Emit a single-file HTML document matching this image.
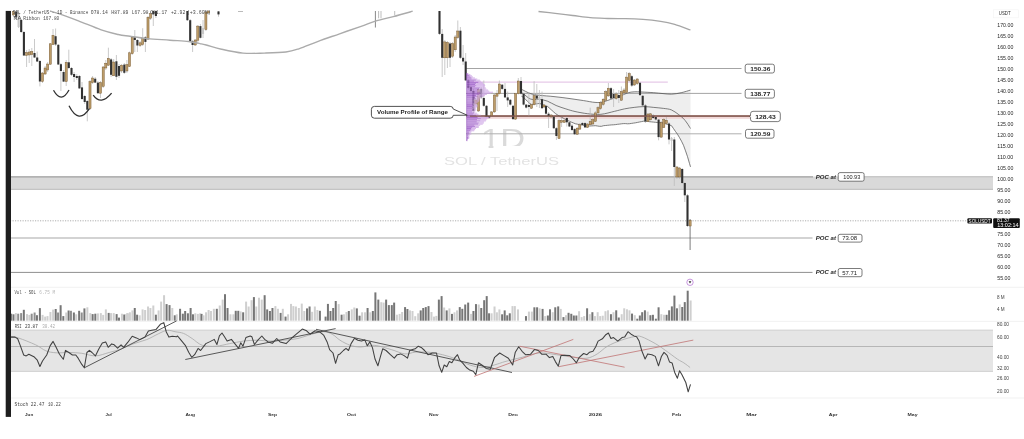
<!DOCTYPE html>
<html><head><meta charset="utf-8"><title>SOL / TetherUS</title>
<style>
html,body{margin:0;padding:0;background:#fff;width:1024px;height:439px;overflow:hidden;}
svg{display:block;font-family:"Liberation Sans", Arial, sans-serif;filter:blur(0.4px);}
</style></head><body>
<svg width="1024" height="439" viewBox="0 0 1024 439">
<rect x="0" y="0" width="1024" height="439" fill="#fff"/>

<clipPath id="c1"><path d="M470,120 H530 V145.9 H493.4 V150 H488.6 V145.9 H470 Z"/></clipPath>
<g clip-path="url(#c1)"><text x="481.0" y="147.9" font-size="27.4" fill="#dadada" font-weight="normal" font-style="normal" textLength="44.0" lengthAdjust="spacingAndGlyphs">1D</text></g>
<text x="444.0" y="165.0" font-size="11.4" fill="#e3e3e3" font-weight="normal" font-style="normal" textLength="115.0" lengthAdjust="spacingAndGlyphs">SOL / TetherUS</text>
<rect x="10" y="176.5" width="983" height="13.3" fill="#d9d9d9"/>
<line x1="10" y1="176.8" x2="813" y2="176.8" stroke="#a0a0a0" stroke-width="1.3"/>
<line x1="838" y1="176.8" x2="993" y2="176.8" stroke="#bdbdbd" stroke-width="1.1"/>
<line x1="10" y1="189.4" x2="993" y2="189.4" stroke="#c4c4c4" stroke-width="1.2"/>
<line x1="10" y1="220.8" x2="967" y2="220.8" stroke="#9a9a9a" stroke-width="0.8" stroke-dasharray="1.2,1.3"/>
<line x1="10" y1="238" x2="812.5" y2="238" stroke="#a8a8a8" stroke-width="1.05"/>
<line x1="10" y1="272.4" x2="812.5" y2="272.4" stroke="#8e8e8e" stroke-width="1"/>
<polygon points="521.5,89.3 523.5,90.3 525.5,91.2 527.5,92.2 529.5,93.1 531.5,93.8 533.5,94.2 535.5,94.6 537.5,94.9 539.5,95.3 541.5,95.5 543.5,95.7 545.5,95.8 547.5,96.0 549.5,96.2 551.5,96.4 553.5,96.6 555.5,96.8 557.5,97.0 559.5,97.3 561.5,97.5 563.5,97.8 565.5,98.0 567.5,98.3 569.5,98.5 571.5,98.8 573.5,99.1 575.5,99.4 577.5,99.7 579.5,100.0 581.5,100.3 583.5,100.6 585.5,100.9 587.5,101.2 589.5,101.5 591.5,101.8 593.5,102.2 595.5,102.4 597.5,102.3 599.5,102.2 601.5,102.1 603.5,101.8 605.5,101.1 607.5,100.4 609.5,99.7 611.5,99.0 613.5,98.3 615.5,97.6 617.5,96.9 619.5,96.1 621.5,95.4 623.5,94.7 625.5,93.8 627.5,93.0 629.5,92.5 631.5,92.2 633.5,91.9 635.5,91.8 637.5,91.9 639.5,91.9 641.5,92.0 643.5,92.1 645.5,92.2 647.5,92.3 649.5,92.4 651.5,92.6 653.5,92.7 655.5,92.9 657.5,93.1 659.5,93.3 661.5,93.5 663.5,93.6 665.5,93.8 667.5,93.9 669.5,94.1 671.5,94.2 673.5,93.9 675.5,93.6 677.5,93.3 679.5,93.0 681.5,92.6 683.5,92.1 685.5,91.5 687.5,90.9 689.5,90.4 690.5,90.1 690.5,166.9 689.5,163.5 687.5,156.6 685.5,150.8 683.5,145.3 681.5,141.2 679.5,137.6 677.5,134.3 675.5,131.5 673.5,128.6 671.5,125.7 669.5,125.0 667.5,124.4 665.5,123.8 663.5,123.1 661.5,122.9 659.5,122.7 657.5,122.5 655.5,122.3 653.5,122.1 651.5,121.9 649.5,121.7 647.5,121.4 645.5,121.2 643.5,121.2 641.5,121.6 639.5,122.0 637.5,122.4 635.5,122.8 633.5,123.1 631.5,123.4 629.5,123.7 627.5,123.8 625.5,123.6 623.5,123.6 621.5,123.8 619.5,124.1 617.5,124.3 615.5,124.6 613.5,124.8 611.5,124.9 609.5,125.1 607.5,125.3 605.5,125.5 603.5,125.7 601.5,126.3 599.5,126.3 597.5,126.0 595.5,125.7 593.5,125.8 591.5,125.9 589.5,126.0 587.5,126.2 585.5,125.8 583.5,125.4 581.5,125.0 579.5,124.6 577.5,124.2 575.5,123.8 573.5,123.0 571.5,122.2 569.5,121.3 567.5,120.4 565.5,119.5 563.5,118.3 561.5,117.2 559.5,116.1 557.5,114.9 555.5,113.6 553.5,111.8 551.5,110.0 549.5,108.2 547.5,106.4 545.5,105.6 543.5,104.9 541.5,104.2 539.5,103.5 537.5,103.7 535.5,104.0 533.5,104.2 531.5,104.4 529.5,103.3 527.5,101.4 525.5,99.4 523.5,97.4 521.5,96.3" fill="#eeeeee"/>
<line x1="466" y1="68.5" x2="741.5" y2="68.5" stroke="#9a9a9a" stroke-width="0.9"/>
<line x1="467" y1="82.1" x2="667.8" y2="82.1" stroke="#e0bce2" stroke-width="1"/>
<line x1="466" y1="93.4" x2="741.5" y2="93.4" stroke="#9a9a9a" stroke-width="0.9"/>
<line x1="466" y1="133.8" x2="741.5" y2="133.8" stroke="#b0b0b0" stroke-width="1"/>
<rect x="466" y="116.6" width="285" height="2.2" fill="#f0d4d4" opacity="0.9"/>
<line x1="466" y1="116.1" x2="751" y2="116.1" stroke="#8e6a60" stroke-width="1.5"/>
<path d="M521.5,89.3 C523.0,90.0 527.7,92.7 530.7,93.7 C533.7,94.7 535.6,94.8 539.5,95.3 C543.4,95.8 548.9,96.0 554.0,96.6 C559.1,97.1 565.1,97.9 570.0,98.6 C574.9,99.3 579.4,100.0 583.6,100.6 C587.8,101.2 591.8,102.2 595.0,102.4 C598.2,102.6 599.8,102.7 602.8,102.0 C605.8,101.3 609.6,99.7 613.0,98.5 C616.4,97.3 620.9,95.7 623.4,94.7 C625.9,93.7 626.5,93.2 628.3,92.7 C630.1,92.2 631.9,91.9 634.2,91.8 C636.5,91.7 638.7,91.8 642.0,92.0 C645.3,92.2 650.3,92.4 653.8,92.7 C657.3,93.0 660.1,93.3 663.0,93.6 C665.9,93.8 668.4,94.3 671.4,94.2 C674.4,94.1 678.0,93.4 681.2,92.7 C684.4,92.0 689.0,90.5 690.5,90.1" fill="none" stroke="#4a4a4a" stroke-width="0.7"/><path d="M521.5,92.8 C521.8,93.0 521.8,92.7 523.3,93.7 C524.8,94.8 528.0,98.1 530.7,99.1 C533.4,100.0 536.7,99.1 539.5,99.4 C542.3,99.7 544.5,100.1 547.3,101.1 C550.1,102.1 553.0,104.2 556.1,105.5 C559.2,106.8 562.8,107.9 565.9,108.9 C569.0,109.9 571.4,110.7 575.0,111.5 C578.6,112.3 583.2,113.2 587.5,113.7 C591.8,114.2 596.4,114.7 600.9,114.3 C605.4,113.9 610.7,112.2 614.6,111.3 C618.5,110.4 621.1,109.6 624.4,108.9 C627.7,108.2 630.9,107.8 634.2,107.4 C637.5,107.0 640.7,106.6 644.0,106.6 C647.3,106.6 650.5,107.1 653.8,107.4 C657.1,107.7 660.7,108.0 663.6,108.4 C666.5,108.8 669.0,108.9 671.4,109.9 C673.8,110.9 676.3,112.9 678.3,114.3 C680.2,115.7 681.6,116.8 683.1,118.2 C684.6,119.7 685.8,121.3 687.0,123.0 C688.2,124.7 689.9,127.6 690.5,128.5" fill="none" stroke="#4a4a4a" stroke-width="0.7"/><polyline points="521.5,96.3 523.5,97.4 525.5,99.4 527.5,101.4 529.5,103.3 531.5,104.4 533.5,104.2 535.5,104.0 537.5,103.7 539.5,103.5 541.5,104.2 543.5,104.9 545.5,105.6 547.5,106.4 549.5,108.2 551.5,110.0 553.5,111.8 555.5,113.6 557.5,114.9 559.5,116.1 561.5,117.2 563.5,118.3 565.5,119.5 567.5,120.4 569.5,121.3 571.5,122.2 573.5,123.0 575.5,123.8 577.5,124.2 579.5,124.6 581.5,125.0 583.5,125.4 585.5,125.8 587.5,126.2 589.5,126.0 591.5,125.9 593.5,125.8 595.5,125.7 597.5,126.0 599.5,126.3 601.5,126.3 603.5,125.7 605.5,125.5 607.5,125.3 609.5,125.1 611.5,124.9 613.5,124.8 615.5,124.6 617.5,124.3 619.5,124.1 621.5,123.8 623.5,123.6 625.5,123.6 627.5,123.8 629.5,123.7 631.5,123.4 633.5,123.1 635.5,122.8 637.5,122.4 639.5,122.0 641.5,121.6 643.5,121.2 645.5,121.2 647.5,121.4 649.5,121.7 651.5,121.9 653.5,122.1 655.5,122.3 657.5,122.5 659.5,122.7 661.5,122.9 663.5,123.1 665.5,123.8 667.5,124.4 669.5,125.0 671.5,125.7 673.5,128.6 675.5,131.5 677.5,134.3 679.5,137.6 681.5,141.2 683.5,145.3 685.5,150.8 687.5,156.6 689.5,163.5 690.5,166.9" fill="none" stroke="#4a4a4a" stroke-width="0.7" stroke-linejoin="round"/>
<g><line x1="13.5" y1="11.0" x2="13.5" y2="17.0" stroke="#bdbdbd" stroke-width="0.8"/><line x1="16.2" y1="11.0" x2="16.2" y2="20.0" stroke="#bdbdbd" stroke-width="0.8"/><line x1="18.6" y1="12.0" x2="18.6" y2="28.0" stroke="#bdbdbd" stroke-width="0.8"/><line x1="21.2" y1="19.0" x2="21.2" y2="33.0" stroke="#bdbdbd" stroke-width="0.8"/><line x1="23.9" y1="31.0" x2="23.9" y2="56.0" stroke="#bdbdbd" stroke-width="0.8"/><line x1="26.6" y1="50.0" x2="26.6" y2="67.0" stroke="#bdbdbd" stroke-width="0.8"/><line x1="29.2" y1="49.0" x2="29.2" y2="63.0" stroke="#bdbdbd" stroke-width="0.8"/><line x1="31.8" y1="48.0" x2="31.8" y2="66.0" stroke="#bdbdbd" stroke-width="0.8"/><line x1="34.5" y1="39.0" x2="34.5" y2="58.0" stroke="#bdbdbd" stroke-width="0.8"/><line x1="37.2" y1="51.5" x2="37.2" y2="62.0" stroke="#bdbdbd" stroke-width="0.8"/><line x1="39.9" y1="60.0" x2="39.9" y2="86.4" stroke="#bdbdbd" stroke-width="0.8"/><line x1="42.5" y1="72.0" x2="42.5" y2="83.0" stroke="#bdbdbd" stroke-width="0.8"/><line x1="45.1" y1="66.0" x2="45.1" y2="75.0" stroke="#bdbdbd" stroke-width="0.8"/><line x1="47.7" y1="62.0" x2="47.7" y2="72.0" stroke="#bdbdbd" stroke-width="0.8"/><line x1="50.3" y1="43.0" x2="50.3" y2="65.0" stroke="#bdbdbd" stroke-width="0.8"/><line x1="53.0" y1="29.0" x2="53.0" y2="45.0" stroke="#bdbdbd" stroke-width="0.8"/><line x1="55.6" y1="28.5" x2="55.6" y2="46.0" stroke="#bdbdbd" stroke-width="0.8"/><line x1="58.3" y1="44.0" x2="58.3" y2="65.0" stroke="#bdbdbd" stroke-width="0.8"/><line x1="60.9" y1="63.0" x2="60.9" y2="91.0" stroke="#bdbdbd" stroke-width="0.8"/><line x1="63.6" y1="70.0" x2="63.6" y2="82.0" stroke="#bdbdbd" stroke-width="0.8"/><line x1="66.2" y1="60.0" x2="66.2" y2="86.0" stroke="#bdbdbd" stroke-width="0.8"/><line x1="68.8" y1="49.7" x2="68.8" y2="69.0" stroke="#bdbdbd" stroke-width="0.8"/><line x1="71.5" y1="67.0" x2="71.5" y2="76.0" stroke="#bdbdbd" stroke-width="0.8"/><line x1="74.1" y1="72.0" x2="74.1" y2="82.0" stroke="#bdbdbd" stroke-width="0.8"/><line x1="76.8" y1="74.0" x2="76.8" y2="80.0" stroke="#bdbdbd" stroke-width="0.8"/><line x1="79.4" y1="75.0" x2="79.4" y2="89.0" stroke="#bdbdbd" stroke-width="0.8"/><line x1="82.0" y1="82.0" x2="82.0" y2="100.0" stroke="#bdbdbd" stroke-width="0.8"/><line x1="84.7" y1="95.0" x2="84.7" y2="104.0" stroke="#bdbdbd" stroke-width="0.8"/><line x1="87.3" y1="100.0" x2="87.3" y2="121.3" stroke="#bdbdbd" stroke-width="0.8"/><line x1="90.0" y1="80.0" x2="90.0" y2="110.0" stroke="#bdbdbd" stroke-width="0.8"/><line x1="92.6" y1="76.0" x2="92.6" y2="84.0" stroke="#bdbdbd" stroke-width="0.8"/><line x1="95.2" y1="77.0" x2="95.2" y2="83.0" stroke="#bdbdbd" stroke-width="0.8"/><line x1="97.9" y1="81.0" x2="97.9" y2="94.0" stroke="#bdbdbd" stroke-width="0.8"/><line x1="100.5" y1="81.0" x2="100.5" y2="98.0" stroke="#bdbdbd" stroke-width="0.8"/><line x1="103.2" y1="66.0" x2="103.2" y2="88.0" stroke="#bdbdbd" stroke-width="0.8"/><line x1="105.8" y1="60.0" x2="105.8" y2="70.0" stroke="#bdbdbd" stroke-width="0.8"/><line x1="108.4" y1="47.7" x2="108.4" y2="66.0" stroke="#bdbdbd" stroke-width="0.8"/><line x1="111.1" y1="58.0" x2="111.1" y2="77.0" stroke="#bdbdbd" stroke-width="0.8"/><line x1="113.7" y1="59.0" x2="113.7" y2="76.0" stroke="#bdbdbd" stroke-width="0.8"/><line x1="116.4" y1="55.0" x2="116.4" y2="80.0" stroke="#bdbdbd" stroke-width="0.8"/><line x1="119.0" y1="64.0" x2="119.0" y2="78.0" stroke="#bdbdbd" stroke-width="0.8"/><line x1="121.6" y1="64.0" x2="121.6" y2="73.0" stroke="#bdbdbd" stroke-width="0.8"/><line x1="124.3" y1="63.0" x2="124.3" y2="74.0" stroke="#bdbdbd" stroke-width="0.8"/><line x1="126.9" y1="60.0" x2="126.9" y2="73.0" stroke="#bdbdbd" stroke-width="0.8"/><line x1="129.5" y1="51.6" x2="129.5" y2="67.0" stroke="#bdbdbd" stroke-width="0.8"/><line x1="132.2" y1="36.0" x2="132.2" y2="55.0" stroke="#bdbdbd" stroke-width="0.8"/><line x1="134.8" y1="30.0" x2="134.8" y2="52.0" stroke="#bdbdbd" stroke-width="0.8"/><line x1="137.4" y1="39.0" x2="137.4" y2="52.0" stroke="#bdbdbd" stroke-width="0.8"/><line x1="140.1" y1="41.0" x2="140.1" y2="47.0" stroke="#bdbdbd" stroke-width="0.8"/><line x1="142.7" y1="28.2" x2="142.7" y2="46.0" stroke="#bdbdbd" stroke-width="0.8"/><line x1="145.4" y1="36.0" x2="145.4" y2="52.0" stroke="#bdbdbd" stroke-width="0.8"/><line x1="148.0" y1="16.0" x2="148.0" y2="40.0" stroke="#bdbdbd" stroke-width="0.8"/><line x1="150.6" y1="11.0" x2="150.6" y2="20.0" stroke="#bdbdbd" stroke-width="0.8"/><line x1="153.3" y1="11.0" x2="153.3" y2="26.0" stroke="#bdbdbd" stroke-width="0.8"/><line x1="155.9" y1="11.0" x2="155.9" y2="18.0" stroke="#bdbdbd" stroke-width="0.8"/><line x1="187.4" y1="11.0" x2="187.4" y2="21.0" stroke="#bdbdbd" stroke-width="0.8"/><line x1="190.2" y1="19.0" x2="190.2" y2="42.0" stroke="#bdbdbd" stroke-width="0.8"/><line x1="192.6" y1="40.0" x2="192.6" y2="52.0" stroke="#bdbdbd" stroke-width="0.8"/><line x1="195.2" y1="39.0" x2="195.2" y2="46.0" stroke="#bdbdbd" stroke-width="0.8"/><line x1="197.8" y1="25.0" x2="197.8" y2="44.0" stroke="#bdbdbd" stroke-width="0.8"/><line x1="200.4" y1="24.0" x2="200.4" y2="38.5" stroke="#bdbdbd" stroke-width="0.8"/><line x1="203.0" y1="20.0" x2="203.0" y2="38.0" stroke="#bdbdbd" stroke-width="0.8"/><line x1="205.9" y1="11.0" x2="205.9" y2="31.0" stroke="#bdbdbd" stroke-width="0.8"/><line x1="208.4" y1="11.0" x2="208.4" y2="14.0" stroke="#bdbdbd" stroke-width="0.8"/><line x1="218.5" y1="11.0" x2="218.5" y2="16.7" stroke="#bdbdbd" stroke-width="0.8"/><line x1="439.5" y1="11.0" x2="439.5" y2="35.0" stroke="#bdbdbd" stroke-width="0.8"/><line x1="442.2" y1="29.0" x2="442.2" y2="77.0" stroke="#bdbdbd" stroke-width="0.8"/><line x1="444.8" y1="40.0" x2="444.8" y2="75.0" stroke="#bdbdbd" stroke-width="0.8"/><line x1="447.4" y1="41.0" x2="447.4" y2="68.0" stroke="#bdbdbd" stroke-width="0.8"/><line x1="450.0" y1="42.0" x2="450.0" y2="67.0" stroke="#bdbdbd" stroke-width="0.8"/><line x1="452.6" y1="42.0" x2="452.6" y2="58.0" stroke="#bdbdbd" stroke-width="0.8"/><line x1="455.2" y1="35.0" x2="455.2" y2="52.0" stroke="#bdbdbd" stroke-width="0.8"/><line x1="457.8" y1="20.5" x2="457.8" y2="39.0" stroke="#bdbdbd" stroke-width="0.8"/><line x1="460.4" y1="27.0" x2="460.4" y2="59.0" stroke="#bdbdbd" stroke-width="0.8"/><line x1="463.1" y1="45.0" x2="463.1" y2="65.0" stroke="#bdbdbd" stroke-width="0.8"/><line x1="465.7" y1="53.0" x2="465.7" y2="81.0" stroke="#bdbdbd" stroke-width="0.8"/><line x1="468.3" y1="79.0" x2="468.3" y2="90.0" stroke="#bdbdbd" stroke-width="0.8"/><line x1="470.9" y1="85.0" x2="470.9" y2="93.0" stroke="#bdbdbd" stroke-width="0.8"/><line x1="473.4" y1="89.0" x2="473.4" y2="113.0" stroke="#bdbdbd" stroke-width="0.8"/><line x1="475.9" y1="98.0" x2="475.9" y2="106.0" stroke="#bdbdbd" stroke-width="0.8"/><line x1="478.6" y1="88.0" x2="478.6" y2="112.0" stroke="#bdbdbd" stroke-width="0.8"/><line x1="481.2" y1="87.0" x2="481.2" y2="99.0" stroke="#bdbdbd" stroke-width="0.8"/><line x1="483.8" y1="80.5" x2="483.8" y2="107.0" stroke="#bdbdbd" stroke-width="0.8"/><line x1="486.5" y1="105.0" x2="486.5" y2="117.5" stroke="#bdbdbd" stroke-width="0.8"/><line x1="489.1" y1="115.0" x2="489.1" y2="119.0" stroke="#bdbdbd" stroke-width="0.8"/><line x1="491.7" y1="111.0" x2="491.7" y2="117.0" stroke="#bdbdbd" stroke-width="0.8"/><line x1="494.4" y1="94.0" x2="494.4" y2="113.0" stroke="#bdbdbd" stroke-width="0.8"/><line x1="497.0" y1="90.0" x2="497.0" y2="111.0" stroke="#bdbdbd" stroke-width="0.8"/><line x1="499.4" y1="80.5" x2="499.4" y2="94.5" stroke="#bdbdbd" stroke-width="0.8"/><line x1="502.2" y1="84.0" x2="502.2" y2="90.0" stroke="#bdbdbd" stroke-width="0.8"/><line x1="505.0" y1="83.0" x2="505.0" y2="98.0" stroke="#bdbdbd" stroke-width="0.8"/><line x1="507.7" y1="91.5" x2="507.7" y2="107.0" stroke="#bdbdbd" stroke-width="0.8"/><line x1="510.3" y1="99.0" x2="510.3" y2="105.5" stroke="#bdbdbd" stroke-width="0.8"/><line x1="513.0" y1="105.0" x2="513.0" y2="120.0" stroke="#bdbdbd" stroke-width="0.8"/><line x1="515.6" y1="93.0" x2="515.6" y2="120.0" stroke="#bdbdbd" stroke-width="0.8"/><line x1="518.3" y1="78.0" x2="518.3" y2="94.5" stroke="#bdbdbd" stroke-width="0.8"/><line x1="521.0" y1="77.0" x2="521.0" y2="94.5" stroke="#bdbdbd" stroke-width="0.8"/><line x1="523.6" y1="93.0" x2="523.6" y2="105.5" stroke="#bdbdbd" stroke-width="0.8"/><line x1="526.2" y1="104.0" x2="526.2" y2="108.5" stroke="#bdbdbd" stroke-width="0.8"/><line x1="528.9" y1="92.5" x2="528.9" y2="116.7" stroke="#bdbdbd" stroke-width="0.8"/><line x1="531.5" y1="104.0" x2="531.5" y2="109.0" stroke="#bdbdbd" stroke-width="0.8"/><line x1="534.1" y1="81.2" x2="534.1" y2="105.5" stroke="#bdbdbd" stroke-width="0.8"/><line x1="536.8" y1="84.0" x2="536.8" y2="107.0" stroke="#bdbdbd" stroke-width="0.8"/><line x1="539.4" y1="90.0" x2="539.4" y2="108.0" stroke="#bdbdbd" stroke-width="0.8"/><line x1="542.0" y1="91.5" x2="542.0" y2="109.0" stroke="#bdbdbd" stroke-width="0.8"/><line x1="544.0" y1="104.0" x2="544.0" y2="108.0" stroke="#bdbdbd" stroke-width="0.8"/><line x1="546.0" y1="105.0" x2="546.0" y2="115.0" stroke="#bdbdbd" stroke-width="0.8"/><line x1="548.6" y1="112.0" x2="548.6" y2="128.0" stroke="#bdbdbd" stroke-width="0.8"/><line x1="551.2" y1="114.0" x2="551.2" y2="118.0" stroke="#bdbdbd" stroke-width="0.8"/><line x1="553.8" y1="115.0" x2="553.8" y2="129.0" stroke="#bdbdbd" stroke-width="0.8"/><line x1="556.4" y1="127.0" x2="556.4" y2="140.0" stroke="#bdbdbd" stroke-width="0.8"/><line x1="559.0" y1="119.0" x2="559.0" y2="139.0" stroke="#bdbdbd" stroke-width="0.8"/><line x1="561.6" y1="118.0" x2="561.6" y2="127.0" stroke="#bdbdbd" stroke-width="0.8"/><line x1="564.2" y1="119.0" x2="564.2" y2="123.0" stroke="#bdbdbd" stroke-width="0.8"/><line x1="566.8" y1="116.0" x2="566.8" y2="126.5" stroke="#bdbdbd" stroke-width="0.8"/><line x1="569.4" y1="121.0" x2="569.4" y2="127.0" stroke="#bdbdbd" stroke-width="0.8"/><line x1="572.0" y1="124.0" x2="572.0" y2="131.0" stroke="#bdbdbd" stroke-width="0.8"/><line x1="574.6" y1="128.0" x2="574.6" y2="135.0" stroke="#bdbdbd" stroke-width="0.8"/><line x1="577.2" y1="127.0" x2="577.2" y2="135.0" stroke="#bdbdbd" stroke-width="0.8"/><line x1="579.8" y1="123.0" x2="579.8" y2="130.0" stroke="#bdbdbd" stroke-width="0.8"/><line x1="582.4" y1="122.0" x2="582.4" y2="126.0" stroke="#bdbdbd" stroke-width="0.8"/><line x1="585.0" y1="122.0" x2="585.0" y2="128.0" stroke="#bdbdbd" stroke-width="0.8"/><line x1="587.6" y1="123.0" x2="587.6" y2="128.0" stroke="#bdbdbd" stroke-width="0.8"/><line x1="590.2" y1="107.7" x2="590.2" y2="125.5" stroke="#bdbdbd" stroke-width="0.8"/><line x1="592.8" y1="118.0" x2="592.8" y2="125.0" stroke="#bdbdbd" stroke-width="0.8"/><line x1="595.4" y1="111.0" x2="595.4" y2="122.0" stroke="#bdbdbd" stroke-width="0.8"/><line x1="598.0" y1="106.0" x2="598.0" y2="114.0" stroke="#bdbdbd" stroke-width="0.8"/><line x1="600.6" y1="101.0" x2="600.6" y2="110.0" stroke="#bdbdbd" stroke-width="0.8"/><line x1="603.2" y1="98.0" x2="603.2" y2="106.0" stroke="#bdbdbd" stroke-width="0.8"/><line x1="605.8" y1="90.0" x2="605.8" y2="101.0" stroke="#bdbdbd" stroke-width="0.8"/><line x1="608.4" y1="83.0" x2="608.4" y2="97.0" stroke="#bdbdbd" stroke-width="0.8"/><line x1="611.0" y1="87.0" x2="611.0" y2="100.0" stroke="#bdbdbd" stroke-width="0.8"/><line x1="613.6" y1="89.0" x2="613.6" y2="107.0" stroke="#bdbdbd" stroke-width="0.8"/><line x1="616.2" y1="92.0" x2="616.2" y2="100.0" stroke="#bdbdbd" stroke-width="0.8"/><line x1="618.8" y1="90.0" x2="618.8" y2="103.0" stroke="#bdbdbd" stroke-width="0.8"/><line x1="621.4" y1="86.5" x2="621.4" y2="101.0" stroke="#bdbdbd" stroke-width="0.8"/><line x1="624.0" y1="88.0" x2="624.0" y2="94.0" stroke="#bdbdbd" stroke-width="0.8"/><line x1="626.6" y1="72.0" x2="626.6" y2="93.0" stroke="#bdbdbd" stroke-width="0.8"/><line x1="629.2" y1="72.0" x2="629.2" y2="82.0" stroke="#bdbdbd" stroke-width="0.8"/><line x1="631.8" y1="75.0" x2="631.8" y2="87.0" stroke="#bdbdbd" stroke-width="0.8"/><line x1="634.4" y1="79.0" x2="634.4" y2="86.0" stroke="#bdbdbd" stroke-width="0.8"/><line x1="637.2" y1="78.0" x2="637.2" y2="85.0" stroke="#bdbdbd" stroke-width="0.8"/><line x1="640.0" y1="82.0" x2="640.0" y2="96.0" stroke="#bdbdbd" stroke-width="0.8"/><line x1="642.7" y1="95.0" x2="642.7" y2="106.0" stroke="#bdbdbd" stroke-width="0.8"/><line x1="645.4" y1="104.0" x2="645.4" y2="123.0" stroke="#bdbdbd" stroke-width="0.8"/><line x1="648.0" y1="113.0" x2="648.0" y2="122.0" stroke="#bdbdbd" stroke-width="0.8"/><line x1="650.6" y1="113.0" x2="650.6" y2="120.5" stroke="#bdbdbd" stroke-width="0.8"/><line x1="653.2" y1="114.0" x2="653.2" y2="119.0" stroke="#bdbdbd" stroke-width="0.8"/><line x1="655.8" y1="116.0" x2="655.8" y2="120.5" stroke="#bdbdbd" stroke-width="0.8"/><line x1="658.6" y1="119.0" x2="658.6" y2="140.3" stroke="#bdbdbd" stroke-width="0.8"/><line x1="661.2" y1="121.0" x2="661.2" y2="138.0" stroke="#bdbdbd" stroke-width="0.8"/><line x1="663.8" y1="118.0" x2="663.8" y2="128.0" stroke="#bdbdbd" stroke-width="0.8"/><line x1="666.4" y1="117.0" x2="666.4" y2="124.0" stroke="#bdbdbd" stroke-width="0.8"/><line x1="669.0" y1="122.0" x2="669.0" y2="144.3" stroke="#bdbdbd" stroke-width="0.8"/><line x1="671.6" y1="137.0" x2="671.6" y2="151.0" stroke="#bdbdbd" stroke-width="0.8"/><line x1="674.3" y1="137.0" x2="674.3" y2="186.0" stroke="#bdbdbd" stroke-width="0.8"/><line x1="676.9" y1="166.0" x2="676.9" y2="179.0" stroke="#bdbdbd" stroke-width="0.8"/><line x1="679.6" y1="167.0" x2="679.6" y2="179.0" stroke="#bdbdbd" stroke-width="0.8"/><line x1="682.2" y1="168.0" x2="682.2" y2="184.0" stroke="#bdbdbd" stroke-width="0.8"/><line x1="684.8" y1="182.0" x2="684.8" y2="202.0" stroke="#bdbdbd" stroke-width="0.8"/><line x1="687.5" y1="194.0" x2="687.5" y2="227.0" stroke="#bdbdbd" stroke-width="0.8"/><line x1="690.1" y1="219.0" x2="690.1" y2="250.0" stroke="#5a5a5a" stroke-width="0.8"/></g>
<g><rect x="12.45" y="11.5" width="2.1" height="3.5" fill="#bc9c69" stroke="#76582f" stroke-width="0.45"/><rect x="15.15" y="11.5" width="2.1" height="5.5" fill="#313131"/><rect x="17.55" y="13.0" width="2.1" height="14.0" fill="#c8c8c8"/><rect x="20.15" y="20.0" width="2.1" height="12.0" fill="#313131"/><rect x="22.85" y="32.0" width="2.1" height="23.5" fill="#313131"/><rect x="25.55" y="52.5" width="2.1" height="3.0" fill="#bc9c69" stroke="#76582f" stroke-width="0.45"/><rect x="28.15" y="52.0" width="2.1" height="3.0" fill="#bc9c69" stroke="#76582f" stroke-width="0.45"/><rect x="30.75" y="51.5" width="2.1" height="3.0" fill="#bc9c69" stroke="#76582f" stroke-width="0.45"/><rect x="33.45" y="53.0" width="2.1" height="4.5" fill="#313131"/><rect x="36.15" y="57.5" width="2.1" height="4.0" fill="#313131"/><rect x="38.85" y="61.0" width="2.1" height="20.5" fill="#313131"/><rect x="41.45" y="73.0" width="2.1" height="8.5" fill="#bc9c69" stroke="#76582f" stroke-width="0.45"/><rect x="44.05" y="68.0" width="2.1" height="6.0" fill="#bc9c69" stroke="#76582f" stroke-width="0.45"/><rect x="46.65" y="64.0" width="2.1" height="6.0" fill="#bc9c69" stroke="#76582f" stroke-width="0.45"/><rect x="49.25" y="43.8" width="2.1" height="20.4" fill="#bc9c69" stroke="#76582f" stroke-width="0.45"/><rect x="51.95" y="35.3" width="2.1" height="9.2" fill="#bc9c69" stroke="#76582f" stroke-width="0.45"/><rect x="54.55" y="36.2" width="2.1" height="8.3" fill="#313131"/><rect x="57.25" y="44.8" width="2.1" height="19.7" fill="#313131"/><rect x="59.85" y="64.2" width="2.1" height="6.8" fill="#313131"/><rect x="62.55" y="72.0" width="2.1" height="9.6" fill="#313131"/><rect x="65.15" y="62.3" width="2.1" height="19.3" fill="#bc9c69" stroke="#76582f" stroke-width="0.45"/><rect x="67.75" y="62.3" width="2.1" height="5.7" fill="#313131"/><rect x="70.45" y="68.0" width="2.1" height="6.8" fill="#313131"/><rect x="73.05" y="74.0" width="2.1" height="3.0" fill="#313131"/><rect x="75.75" y="76.0" width="2.1" height="2.0" fill="#313131"/><rect x="78.35" y="76.0" width="2.1" height="12.4" fill="#313131"/><rect x="80.95" y="87.4" width="2.1" height="11.6" fill="#313131"/><rect x="83.65" y="96.0" width="2.1" height="6.0" fill="#313131"/><rect x="86.25" y="101.0" width="2.1" height="8.7" fill="#313131"/><rect x="88.95" y="81.6" width="2.1" height="27.1" fill="#bc9c69" stroke="#76582f" stroke-width="0.45"/><rect x="91.55" y="78.0" width="2.1" height="4.6" fill="#bc9c69" stroke="#76582f" stroke-width="0.45"/><rect x="94.15" y="78.7" width="2.1" height="3.9" fill="#313131"/><rect x="96.85" y="82.6" width="2.1" height="10.6" fill="#313131"/><rect x="99.45" y="82.6" width="2.1" height="10.6" fill="#bc9c69" stroke="#76582f" stroke-width="0.45"/><rect x="102.15" y="67.0" width="2.1" height="19.4" fill="#bc9c69" stroke="#76582f" stroke-width="0.45"/><rect x="104.75" y="63.2" width="2.1" height="4.8" fill="#bc9c69" stroke="#76582f" stroke-width="0.45"/><rect x="107.35" y="58.4" width="2.1" height="6.8" fill="#bc9c69" stroke="#76582f" stroke-width="0.45"/><rect x="110.05" y="59.4" width="2.1" height="15.4" fill="#313131"/><rect x="112.65" y="62.0" width="2.1" height="13.8" fill="#bc9c69" stroke="#76582f" stroke-width="0.45"/><rect x="115.35" y="61.3" width="2.1" height="15.5" fill="#313131"/><rect x="117.95" y="66.0" width="2.1" height="9.8" fill="#313131"/><rect x="120.55" y="65.2" width="2.1" height="5.8" fill="#bc9c69" stroke="#76582f" stroke-width="0.45"/><rect x="123.25" y="64.6" width="2.1" height="8.2" fill="#313131"/><rect x="125.85" y="64.6" width="2.1" height="6.4" fill="#bc9c69" stroke="#76582f" stroke-width="0.45"/><rect x="128.45" y="52.8" width="2.1" height="13.7" fill="#bc9c69" stroke="#76582f" stroke-width="0.45"/><rect x="131.15" y="37.3" width="2.1" height="16.4" fill="#bc9c69" stroke="#76582f" stroke-width="0.45"/><rect x="133.75" y="37.3" width="2.1" height="2.7" fill="#313131"/><rect x="136.35" y="40.0" width="2.1" height="5.5" fill="#313131"/><rect x="139.05" y="42.8" width="2.1" height="2.7" fill="#bc9c69" stroke="#76582f" stroke-width="0.45"/><rect x="141.65" y="38.2" width="2.1" height="6.4" fill="#bc9c69" stroke="#76582f" stroke-width="0.45"/><rect x="144.35" y="37.3" width="2.1" height="4.6" fill="#313131"/><rect x="146.95" y="17.3" width="2.1" height="21.8" fill="#bc9c69" stroke="#76582f" stroke-width="0.45"/><rect x="149.55" y="13.6" width="2.1" height="4.6" fill="#bc9c69" stroke="#76582f" stroke-width="0.45"/><rect x="152.25" y="11.0" width="2.1" height="3.4" fill="#313131"/><rect x="154.85" y="11.0" width="2.1" height="5.0" fill="#313131"/><rect x="186.35" y="11.0" width="2.1" height="9.2" fill="#313131"/><rect x="189.15" y="20.2" width="2.1" height="21.1" fill="#313131"/><rect x="191.55" y="41.3" width="2.1" height="3.7" fill="#313131"/><rect x="194.15" y="40.0" width="2.1" height="5.0" fill="#bc9c69" stroke="#76582f" stroke-width="0.45"/><rect x="196.75" y="26.1" width="2.1" height="14.1" fill="#bc9c69" stroke="#76582f" stroke-width="0.45"/><rect x="199.35" y="26.1" width="2.1" height="11.7" fill="#313131"/><rect x="201.95" y="28.0" width="2.1" height="6.0" fill="#c8c8c8"/><rect x="204.85" y="12.0" width="2.1" height="17.6" fill="#bc9c69" stroke="#76582f" stroke-width="0.45"/><rect x="207.35" y="11.0" width="2.1" height="2.0" fill="#bc9c69" stroke="#76582f" stroke-width="0.45"/><rect x="217.45" y="11.4" width="2.1" height="3.0" fill="#313131"/><rect x="438.45" y="11.0" width="2.1" height="22.9" fill="#313131"/><rect x="441.15" y="33.9" width="2.1" height="23.9" fill="#313131"/><rect x="443.75" y="41.9" width="2.1" height="15.9" fill="#bc9c69" stroke="#76582f" stroke-width="0.45"/><rect x="446.35" y="42.5" width="2.1" height="15.3" fill="#bc9c69" stroke="#76582f" stroke-width="0.45"/><rect x="448.95" y="43.5" width="2.1" height="14.3" fill="#313131"/><rect x="451.55" y="43.5" width="2.1" height="12.7" fill="#bc9c69" stroke="#76582f" stroke-width="0.45"/><rect x="454.15" y="37.0" width="2.1" height="12.8" fill="#bc9c69" stroke="#76582f" stroke-width="0.45"/><rect x="456.75" y="31.0" width="2.1" height="6.5" fill="#bc9c69" stroke="#76582f" stroke-width="0.45"/><rect x="459.35" y="30.7" width="2.1" height="27.1" fill="#313131"/><rect x="462.05" y="57.8" width="2.1" height="3.7" fill="#313131"/><rect x="464.65" y="61.5" width="2.1" height="18.9" fill="#313131"/><rect x="467.25" y="80.4" width="2.1" height="7.6" fill="#313131"/><rect x="469.85" y="87.0" width="2.1" height="4.0" fill="#313131"/><rect x="472.35" y="91.0" width="2.1" height="20.0" fill="#313131"/><rect x="474.85" y="100.0" width="2.1" height="4.0" fill="#bc9c69" stroke="#76582f" stroke-width="0.45"/><rect x="477.55" y="89.6" width="2.1" height="21.4" fill="#bc9c69" stroke="#76582f" stroke-width="0.45"/><rect x="480.15" y="88.8" width="2.1" height="8.5" fill="#313131"/><rect x="482.75" y="98.0" width="2.1" height="7.8" fill="#313131"/><rect x="485.45" y="105.8" width="2.1" height="10.9" fill="#313131"/><rect x="488.05" y="116.0" width="2.1" height="2.0" fill="#313131"/><rect x="490.65" y="111.9" width="2.1" height="4.1" fill="#bc9c69" stroke="#76582f" stroke-width="0.45"/><rect x="493.35" y="95.0" width="2.1" height="16.9" fill="#bc9c69" stroke="#76582f" stroke-width="0.45"/><rect x="495.95" y="93.7" width="2.1" height="2.5" fill="#bc9c69" stroke="#76582f" stroke-width="0.45"/><rect x="498.35" y="84.0" width="2.1" height="9.7" fill="#bc9c69" stroke="#76582f" stroke-width="0.45"/><rect x="501.15" y="84.7" width="2.1" height="4.2" fill="#313131"/><rect x="503.95" y="88.9" width="2.1" height="8.5" fill="#313131"/><rect x="506.65" y="97.4" width="2.1" height="3.0" fill="#313131"/><rect x="509.25" y="99.8" width="2.1" height="4.8" fill="#313131"/><rect x="511.95" y="105.8" width="2.1" height="13.3" fill="#313131"/><rect x="514.55" y="93.7" width="2.1" height="25.4" fill="#bc9c69" stroke="#76582f" stroke-width="0.45"/><rect x="517.25" y="81.0" width="2.1" height="12.7" fill="#bc9c69" stroke="#76582f" stroke-width="0.45"/><rect x="519.95" y="81.0" width="2.1" height="12.7" fill="#313131"/><rect x="522.55" y="93.7" width="2.1" height="10.9" fill="#313131"/><rect x="525.15" y="104.6" width="2.1" height="3.0" fill="#313131"/><rect x="527.85" y="105.0" width="2.1" height="2.0" fill="#313131"/><rect x="530.45" y="104.6" width="2.1" height="3.6" fill="#bc9c69" stroke="#76582f" stroke-width="0.45"/><rect x="533.05" y="95.6" width="2.1" height="9.0" fill="#bc9c69" stroke="#76582f" stroke-width="0.45"/><rect x="535.75" y="95.6" width="2.1" height="3.0" fill="#313131"/><rect x="538.35" y="97.0" width="2.1" height="3.0" fill="#c8c8c8"/><rect x="540.95" y="99.2" width="2.1" height="9.0" fill="#313131"/><rect x="542.95" y="105.0" width="2.1" height="2.0" fill="#bc9c69" stroke="#76582f" stroke-width="0.45"/><rect x="544.95" y="106.0" width="2.1" height="7.7" fill="#313131"/><rect x="547.55" y="113.7" width="2.1" height="2.6" fill="#313131"/><rect x="550.15" y="115.0" width="2.1" height="2.0" fill="#bc9c69" stroke="#76582f" stroke-width="0.45"/><rect x="552.75" y="116.3" width="2.1" height="11.9" fill="#313131"/><rect x="555.35" y="128.2" width="2.1" height="7.8" fill="#313131"/><rect x="557.95" y="120.6" width="2.1" height="17.9" fill="#bc9c69" stroke="#76582f" stroke-width="0.45"/><rect x="560.55" y="120.6" width="2.1" height="1.7" fill="#bc9c69" stroke="#76582f" stroke-width="0.45"/><rect x="563.15" y="120.6" width="2.1" height="1.7" fill="#bc9c69" stroke="#76582f" stroke-width="0.45"/><rect x="565.75" y="118.0" width="2.1" height="4.3" fill="#313131"/><rect x="568.35" y="122.3" width="2.1" height="4.2" fill="#313131"/><rect x="570.95" y="125.7" width="2.1" height="4.3" fill="#313131"/><rect x="573.55" y="129.1" width="2.1" height="5.1" fill="#313131"/><rect x="576.15" y="128.2" width="2.1" height="6.0" fill="#bc9c69" stroke="#76582f" stroke-width="0.45"/><rect x="578.75" y="124.8" width="2.1" height="4.3" fill="#bc9c69" stroke="#76582f" stroke-width="0.45"/><rect x="581.35" y="123.0" width="2.1" height="2.0" fill="#313131"/><rect x="583.95" y="123.1" width="2.1" height="4.3" fill="#313131"/><rect x="586.55" y="124.0" width="2.1" height="3.4" fill="#bc9c69" stroke="#76582f" stroke-width="0.45"/><rect x="589.15" y="121.4" width="2.1" height="3.4" fill="#bc9c69" stroke="#76582f" stroke-width="0.45"/><rect x="591.75" y="119.7" width="2.1" height="4.3" fill="#bc9c69" stroke="#76582f" stroke-width="0.45"/><rect x="594.35" y="112.9" width="2.1" height="8.5" fill="#bc9c69" stroke="#76582f" stroke-width="0.45"/><rect x="596.95" y="107.7" width="2.1" height="5.2" fill="#bc9c69" stroke="#76582f" stroke-width="0.45"/><rect x="599.55" y="102.7" width="2.1" height="5.9" fill="#bc9c69" stroke="#76582f" stroke-width="0.45"/><rect x="602.15" y="99.3" width="2.1" height="5.1" fill="#bc9c69" stroke="#76582f" stroke-width="0.45"/><rect x="604.75" y="91.6" width="2.1" height="8.6" fill="#bc9c69" stroke="#76582f" stroke-width="0.45"/><rect x="607.35" y="88.2" width="2.1" height="7.7" fill="#bc9c69" stroke="#76582f" stroke-width="0.45"/><rect x="609.95" y="88.2" width="2.1" height="10.3" fill="#313131"/><rect x="612.55" y="94.0" width="2.1" height="4.0" fill="#313131"/><rect x="615.15" y="94.0" width="2.1" height="4.5" fill="#bc9c69" stroke="#76582f" stroke-width="0.45"/><rect x="617.75" y="95.0" width="2.1" height="3.0" fill="#313131"/><rect x="620.35" y="91.6" width="2.1" height="8.6" fill="#bc9c69" stroke="#76582f" stroke-width="0.45"/><rect x="622.95" y="90.0" width="2.1" height="3.0" fill="#bc9c69" stroke="#76582f" stroke-width="0.45"/><rect x="625.55" y="77.1" width="2.1" height="15.4" fill="#bc9c69" stroke="#76582f" stroke-width="0.45"/><rect x="628.15" y="73.7" width="2.1" height="6.8" fill="#bc9c69" stroke="#76582f" stroke-width="0.45"/><rect x="630.75" y="76.2" width="2.1" height="9.4" fill="#313131"/><rect x="633.35" y="80.0" width="2.1" height="5.0" fill="#bc9c69" stroke="#76582f" stroke-width="0.45"/><rect x="636.15" y="79.0" width="2.1" height="4.5" fill="#bc9c69" stroke="#76582f" stroke-width="0.45"/><rect x="638.95" y="82.8" width="2.1" height="12.3" fill="#313131"/><rect x="641.65" y="95.8" width="2.1" height="9.6" fill="#313131"/><rect x="644.35" y="105.4" width="2.1" height="16.1" fill="#313131"/><rect x="646.95" y="114.0" width="2.1" height="7.5" fill="#bc9c69" stroke="#76582f" stroke-width="0.45"/><rect x="649.55" y="113.8" width="2.1" height="6.0" fill="#bc9c69" stroke="#76582f" stroke-width="0.45"/><rect x="652.15" y="115.6" width="2.1" height="2.4" fill="#313131"/><rect x="654.75" y="117.0" width="2.1" height="2.5" fill="#313131"/><rect x="657.55" y="119.6" width="2.1" height="17.5" fill="#313131"/><rect x="660.15" y="122.7" width="2.1" height="14.4" fill="#bc9c69" stroke="#76582f" stroke-width="0.45"/><rect x="662.75" y="119.6" width="2.1" height="7.9" fill="#bc9c69" stroke="#76582f" stroke-width="0.45"/><rect x="665.35" y="120.4" width="2.1" height="3.1" fill="#bc9c69" stroke="#76582f" stroke-width="0.45"/><rect x="667.95" y="123.5" width="2.1" height="16.0" fill="#313131"/><rect x="670.55" y="138.0" width="2.1" height="3.0" fill="#c8c8c8"/><rect x="673.25" y="139.5" width="2.1" height="27.5" fill="#313131"/><rect x="675.85" y="167.0" width="2.1" height="10.0" fill="#bc9c69" stroke="#76582f" stroke-width="0.45"/><rect x="678.55" y="168.0" width="2.1" height="9.0" fill="#bc9c69" stroke="#76582f" stroke-width="0.45"/><rect x="681.15" y="169.0" width="2.1" height="14.0" fill="#313131"/><rect x="683.75" y="183.0" width="2.1" height="12.3" fill="#313131"/><rect x="686.45" y="195.3" width="2.1" height="30.7" fill="#313131"/><rect x="689.05" y="220.4" width="2.1" height="5.6" fill="#bc9c69" stroke="#76582f" stroke-width="0.45"/></g>
<g><rect x="466.6" y="73.00" width="0.9" height="1.1" fill="#9d5ec8" fill-opacity="0.85"/><rect x="467.46" y="73.00" width="0.9" height="1.1" fill="#cfa9e6" fill-opacity="0.8"/><rect x="466.6" y="74.10" width="1.8" height="1.1" fill="#ae75d4" fill-opacity="0.85"/><rect x="468.38" y="74.10" width="2.0" height="1.1" fill="#cfa9e6" fill-opacity="0.8"/><rect x="466.6" y="75.20" width="3.0" height="1.1" fill="#9d5ec8" fill-opacity="0.85"/><rect x="469.56" y="75.20" width="2.3" height="1.1" fill="#cfa9e6" fill-opacity="0.8"/><rect x="466.6" y="76.30" width="3.8" height="1.1" fill="#ae75d4" fill-opacity="0.85"/><rect x="470.37" y="76.30" width="2.5" height="1.1" fill="#cfa9e6" fill-opacity="0.8"/><rect x="466.6" y="77.40" width="4.9" height="1.1" fill="#9d5ec8" fill-opacity="0.85"/><rect x="471.46" y="77.40" width="3.5" height="1.1" fill="#cfa9e6" fill-opacity="0.8"/><rect x="466.6" y="78.50" width="5.1" height="1.1" fill="#ae75d4" fill-opacity="0.85"/><rect x="471.67" y="78.50" width="5.6" height="1.1" fill="#cfa9e6" fill-opacity="0.8"/><rect x="466.6" y="79.60" width="9.3" height="1.1" fill="#9d5ec8" fill-opacity="0.85"/><rect x="475.86" y="79.60" width="4.0" height="1.1" fill="#cfa9e6" fill-opacity="0.8"/><rect x="466.6" y="80.70" width="7.4" height="1.1" fill="#ae75d4" fill-opacity="0.85"/><rect x="474.01" y="80.70" width="6.9" height="1.1" fill="#cfa9e6" fill-opacity="0.8"/><rect x="466.6" y="81.80" width="11.9" height="1.1" fill="#9d5ec8" fill-opacity="0.85"/><rect x="478.47" y="81.80" width="4.3" height="1.1" fill="#cfa9e6" fill-opacity="0.8"/><rect x="466.6" y="82.90" width="9.5" height="1.1" fill="#ae75d4" fill-opacity="0.85"/><rect x="476.15" y="82.90" width="7.2" height="1.1" fill="#cfa9e6" fill-opacity="0.8"/><rect x="466.6" y="84.00" width="8.4" height="1.1" fill="#9d5ec8" fill-opacity="0.85"/><rect x="475.01" y="84.00" width="9.7" height="1.1" fill="#cfa9e6" fill-opacity="0.8"/><rect x="466.6" y="85.10" width="10.0" height="1.1" fill="#ae75d4" fill-opacity="0.85"/><rect x="476.59" y="85.10" width="8.6" height="1.1" fill="#cfa9e6" fill-opacity="0.8"/><rect x="466.6" y="86.20" width="8.7" height="1.1" fill="#9d5ec8" fill-opacity="0.85"/><rect x="475.34" y="86.20" width="9.3" height="1.1" fill="#cfa9e6" fill-opacity="0.8"/><rect x="466.6" y="87.30" width="13.3" height="1.1" fill="#ae75d4" fill-opacity="0.85"/><rect x="479.91" y="87.30" width="5.8" height="1.1" fill="#cfa9e6" fill-opacity="0.8"/><rect x="466.6" y="88.40" width="12.3" height="1.1" fill="#9d5ec8" fill-opacity="0.85"/><rect x="478.92" y="88.40" width="7.4" height="1.1" fill="#cfa9e6" fill-opacity="0.8"/><rect x="466.6" y="89.50" width="12.1" height="1.1" fill="#ae75d4" fill-opacity="0.85"/><rect x="478.66" y="89.50" width="9.4" height="1.1" fill="#cfa9e6" fill-opacity="0.8"/><rect x="466.6" y="90.60" width="10.6" height="1.1" fill="#9d5ec8" fill-opacity="0.85"/><rect x="477.21" y="90.60" width="12.0" height="1.1" fill="#cfa9e6" fill-opacity="0.8"/><rect x="466.6" y="91.70" width="13.5" height="1.1" fill="#ae75d4" fill-opacity="0.85"/><rect x="480.10" y="91.70" width="12.9" height="1.1" fill="#cfa9e6" fill-opacity="0.8"/><rect x="466.6" y="92.80" width="13.8" height="1.1" fill="#9d5ec8" fill-opacity="0.85"/><rect x="480.42" y="92.80" width="10.1" height="1.1" fill="#cfa9e6" fill-opacity="0.8"/><rect x="466.6" y="93.90" width="12.6" height="1.1" fill="#ae75d4" fill-opacity="0.85"/><rect x="479.24" y="93.90" width="7.6" height="1.1" fill="#cfa9e6" fill-opacity="0.8"/><rect x="466.6" y="95.00" width="9.8" height="1.1" fill="#9d5ec8" fill-opacity="0.85"/><rect x="476.43" y="95.00" width="8.4" height="1.1" fill="#cfa9e6" fill-opacity="0.8"/><rect x="466.6" y="96.10" width="11.0" height="1.1" fill="#ae75d4" fill-opacity="0.85"/><rect x="477.61" y="96.10" width="5.7" height="1.1" fill="#cfa9e6" fill-opacity="0.8"/><rect x="466.6" y="97.20" width="8.7" height="1.1" fill="#9d5ec8" fill-opacity="0.85"/><rect x="475.28" y="97.20" width="5.3" height="1.1" fill="#cfa9e6" fill-opacity="0.8"/><rect x="466.6" y="98.30" width="9.4" height="1.1" fill="#ae75d4" fill-opacity="0.85"/><rect x="475.96" y="98.30" width="3.8" height="1.1" fill="#cfa9e6" fill-opacity="0.8"/><rect x="466.6" y="99.40" width="6.9" height="1.1" fill="#9d5ec8" fill-opacity="0.85"/><rect x="473.46" y="99.40" width="5.9" height="1.1" fill="#cfa9e6" fill-opacity="0.8"/><rect x="466.6" y="100.50" width="6.1" height="1.1" fill="#ae75d4" fill-opacity="0.85"/><rect x="472.73" y="100.50" width="6.5" height="1.1" fill="#cfa9e6" fill-opacity="0.8"/><rect x="466.6" y="101.60" width="7.5" height="1.1" fill="#9d5ec8" fill-opacity="0.85"/><rect x="474.08" y="101.60" width="3.6" height="1.1" fill="#cfa9e6" fill-opacity="0.8"/><rect x="466.6" y="102.70" width="6.1" height="1.1" fill="#ae75d4" fill-opacity="0.85"/><rect x="472.68" y="102.70" width="4.1" height="1.1" fill="#cfa9e6" fill-opacity="0.8"/><rect x="466.6" y="103.80" width="6.3" height="1.1" fill="#9d5ec8" fill-opacity="0.85"/><rect x="472.87" y="103.80" width="3.4" height="1.1" fill="#cfa9e6" fill-opacity="0.8"/><rect x="466.6" y="104.90" width="6.7" height="1.1" fill="#ae75d4" fill-opacity="0.85"/><rect x="473.29" y="104.90" width="4.1" height="1.1" fill="#cfa9e6" fill-opacity="0.8"/><rect x="466.6" y="106.00" width="5.8" height="1.1" fill="#9d5ec8" fill-opacity="0.85"/><rect x="472.40" y="106.00" width="4.9" height="1.1" fill="#cfa9e6" fill-opacity="0.8"/><rect x="466.6" y="107.10" width="6.3" height="1.1" fill="#ae75d4" fill-opacity="0.85"/><rect x="472.86" y="107.10" width="3.7" height="1.1" fill="#cfa9e6" fill-opacity="0.8"/><rect x="466.6" y="108.20" width="5.6" height="1.1" fill="#9d5ec8" fill-opacity="0.85"/><rect x="472.16" y="108.20" width="3.9" height="1.1" fill="#cfa9e6" fill-opacity="0.8"/><rect x="466.6" y="109.30" width="7.2" height="1.1" fill="#ae75d4" fill-opacity="0.85"/><rect x="473.81" y="109.30" width="2.6" height="1.1" fill="#cfa9e6" fill-opacity="0.8"/><rect x="466.6" y="110.40" width="5.8" height="1.1" fill="#9d5ec8" fill-opacity="0.85"/><rect x="472.40" y="110.40" width="3.1" height="1.1" fill="#cfa9e6" fill-opacity="0.8"/><rect x="466.6" y="111.50" width="5.5" height="1.1" fill="#ae75d4" fill-opacity="0.85"/><rect x="472.12" y="111.50" width="2.8" height="1.1" fill="#cfa9e6" fill-opacity="0.8"/><rect x="466.6" y="112.60" width="7.6" height="1.1" fill="#9d5ec8" fill-opacity="0.85"/><rect x="474.22" y="112.60" width="2.6" height="1.1" fill="#cfa9e6" fill-opacity="0.8"/><rect x="466.6" y="113.70" width="6.3" height="1.1" fill="#ae75d4" fill-opacity="0.85"/><rect x="472.94" y="113.70" width="5.5" height="1.1" fill="#cfa9e6" fill-opacity="0.8"/><rect x="466.6" y="114.80" width="9.4" height="1.1" fill="#9d5ec8" fill-opacity="0.85"/><rect x="476.01" y="114.80" width="5.1" height="1.1" fill="#cfa9e6" fill-opacity="0.8"/><rect x="466.6" y="115.90" width="10.5" height="1.1" fill="#ae75d4" fill-opacity="0.85"/><rect x="477.08" y="115.90" width="7.3" height="1.1" fill="#cfa9e6" fill-opacity="0.8"/><rect x="466.6" y="117.00" width="11.2" height="1.1" fill="#9d5ec8" fill-opacity="0.85"/><rect x="477.76" y="117.00" width="11.8" height="1.1" fill="#cfa9e6" fill-opacity="0.8"/><rect x="466.6" y="118.10" width="14.3" height="1.1" fill="#ae75d4" fill-opacity="0.85"/><rect x="480.93" y="118.10" width="6.7" height="1.1" fill="#cfa9e6" fill-opacity="0.8"/><rect x="466.6" y="119.20" width="10.4" height="1.1" fill="#9d5ec8" fill-opacity="0.85"/><rect x="477.04" y="119.20" width="9.5" height="1.1" fill="#cfa9e6" fill-opacity="0.8"/><rect x="466.6" y="120.30" width="13.8" height="1.1" fill="#ae75d4" fill-opacity="0.85"/><rect x="480.35" y="120.30" width="5.6" height="1.1" fill="#cfa9e6" fill-opacity="0.8"/><rect x="466.6" y="121.40" width="10.2" height="1.1" fill="#9d5ec8" fill-opacity="0.85"/><rect x="476.82" y="121.40" width="7.3" height="1.1" fill="#cfa9e6" fill-opacity="0.8"/><rect x="466.6" y="122.50" width="12.3" height="1.1" fill="#ae75d4" fill-opacity="0.85"/><rect x="478.87" y="122.50" width="4.9" height="1.1" fill="#cfa9e6" fill-opacity="0.8"/><rect x="466.6" y="123.60" width="11.5" height="1.1" fill="#9d5ec8" fill-opacity="0.85"/><rect x="478.07" y="123.60" width="4.7" height="1.1" fill="#cfa9e6" fill-opacity="0.8"/><rect x="466.6" y="124.70" width="7.8" height="1.1" fill="#ae75d4" fill-opacity="0.85"/><rect x="474.39" y="124.70" width="5.8" height="1.1" fill="#cfa9e6" fill-opacity="0.8"/><rect x="466.6" y="125.80" width="8.7" height="1.1" fill="#9d5ec8" fill-opacity="0.85"/><rect x="475.32" y="125.80" width="3.5" height="1.1" fill="#cfa9e6" fill-opacity="0.8"/><rect x="466.6" y="126.90" width="6.0" height="1.1" fill="#ae75d4" fill-opacity="0.85"/><rect x="472.63" y="126.90" width="6.1" height="1.1" fill="#cfa9e6" fill-opacity="0.8"/><rect x="466.6" y="128.00" width="4.9" height="1.1" fill="#9d5ec8" fill-opacity="0.85"/><rect x="471.49" y="128.00" width="4.5" height="1.1" fill="#cfa9e6" fill-opacity="0.8"/><rect x="466.6" y="129.10" width="5.0" height="1.1" fill="#ae75d4" fill-opacity="0.85"/><rect x="471.56" y="129.10" width="3.4" height="1.1" fill="#cfa9e6" fill-opacity="0.8"/><rect x="466.6" y="130.20" width="4.0" height="1.1" fill="#9d5ec8" fill-opacity="0.85"/><rect x="470.62" y="130.20" width="3.6" height="1.1" fill="#cfa9e6" fill-opacity="0.8"/><rect x="466.6" y="131.30" width="2.9" height="1.1" fill="#ae75d4" fill-opacity="0.85"/><rect x="469.45" y="131.30" width="2.1" height="1.1" fill="#cfa9e6" fill-opacity="0.8"/><rect x="466.6" y="132.40" width="2.6" height="1.1" fill="#9d5ec8" fill-opacity="0.85"/><rect x="469.21" y="132.40" width="1.6" height="1.1" fill="#cfa9e6" fill-opacity="0.8"/><rect x="466.6" y="133.50" width="3.0" height="1.1" fill="#ae75d4" fill-opacity="0.85"/><rect x="469.64" y="133.50" width="1.6" height="1.1" fill="#cfa9e6" fill-opacity="0.8"/><rect x="466.6" y="134.60" width="1.9" height="1.1" fill="#9d5ec8" fill-opacity="0.85"/><rect x="468.53" y="134.60" width="1.1" height="1.1" fill="#cfa9e6" fill-opacity="0.8"/><rect x="466.6" y="135.70" width="1.2" height="1.1" fill="#ae75d4" fill-opacity="0.85"/><rect x="467.84" y="135.70" width="1.4" height="1.1" fill="#cfa9e6" fill-opacity="0.8"/><rect x="466.6" y="136.80" width="1.9" height="1.1" fill="#9d5ec8" fill-opacity="0.85"/><rect x="468.53" y="136.80" width="0.9" height="1.1" fill="#cfa9e6" fill-opacity="0.8"/><rect x="466.6" y="137.90" width="1.8" height="1.1" fill="#ae75d4" fill-opacity="0.85"/><rect x="468.38" y="137.90" width="0.8" height="1.1" fill="#cfa9e6" fill-opacity="0.8"/><rect x="466.6" y="139.00" width="0.8" height="1.1" fill="#9d5ec8" fill-opacity="0.85"/><rect x="467.40" y="139.00" width="0.6" height="1.1" fill="#cfa9e6" fill-opacity="0.8"/><rect x="466.6" y="140.10" width="0.6" height="1.1" fill="#ae75d4" fill-opacity="0.85"/><rect x="467.18" y="140.10" width="0.3" height="1.1" fill="#cfa9e6" fill-opacity="0.8"/></g>
<rect x="466.3" y="73" width="0.8" height="68" fill="#8a4fb5" opacity="0.6"/>
<line x1="470" y1="116.1" x2="751" y2="116.1" stroke="#8a5d55" stroke-width="1.2"/>
<line x1="375.4" y1="11" x2="375.4" y2="27.5" stroke="#6a6a6a" stroke-width="0.8"/>
<line x1="378.6" y1="11" x2="378.6" y2="18.3" stroke="#a0a0a0" stroke-width="0.7"/>
<line x1="381" y1="11" x2="381" y2="18.3" stroke="#a0a0a0" stroke-width="0.7"/>
<line x1="394.7" y1="11" x2="394.7" y2="15.3" stroke="#a0a0a0" stroke-width="0.7"/>
<line x1="238" y1="11.5" x2="243" y2="11.5" stroke="#aaaaaa" stroke-width="0.8"/>
<path d="M50.0,11.0 C51.3,11.4 53.2,11.8 57.9,13.4 C62.6,15.0 71.2,18.1 78.4,20.8 C85.6,23.6 94.6,27.6 101.2,29.9 C107.8,32.2 113.4,33.4 118.2,34.5 C123.0,35.6 125.2,35.6 130.0,36.3 C134.8,37.0 140.6,38.0 147.3,38.6 C154.0,39.2 163.1,39.7 170.0,40.2 C176.9,40.7 183.6,40.9 188.6,41.5 C193.6,42.1 197.1,43.0 200.0,43.6 C202.9,44.2 202.6,44.1 206.2,45.0 C209.8,45.9 215.4,47.9 221.5,49.2 C227.6,50.6 235.8,52.5 243.0,53.1 C250.2,53.8 257.2,53.3 264.4,53.1 C271.5,52.9 280.2,52.7 285.9,52.0 C291.6,51.3 293.4,50.6 298.8,48.8 C304.2,47.0 311.4,43.8 318.2,41.3 C325.0,38.8 332.5,36.3 339.6,33.8 C346.8,31.3 355.0,28.4 361.1,26.3 C367.2,24.2 370.8,22.5 376.2,20.9 C381.6,19.3 387.2,18.2 393.3,16.6 C399.4,15.0 409.5,12.1 412.7,11.2" fill="none" stroke="#ababab" stroke-width="1.4"/>
<path d="M538.5,11.5 C541.3,11.8 549.5,12.7 555.2,13.4 C560.9,14.1 566.9,14.8 572.7,15.5 C578.6,16.2 584.4,17.2 590.3,17.7 C596.2,18.2 602.0,18.3 607.9,18.5 C613.8,18.7 619.6,18.6 625.5,18.7 C631.4,18.8 637.1,19.0 643.0,19.4 C648.9,19.8 655.3,20.5 660.6,21.3 C665.9,22.1 669.7,22.9 674.7,24.3 C679.7,25.8 687.9,29.1 690.5,30.0" fill="none" stroke="#a6a6a6" stroke-width="1.3"/>
<path d="M53.5,90.3 Q61.3,104 69,90" fill="none" stroke="#303030" stroke-width="1.3"/>
<path d="M69,105.8 Q78.7,125 89.4,108.7" fill="none" stroke="#303030" stroke-width="1.3"/>
<path d="M93.2,95.2 Q101,106 111.6,93.2" fill="none" stroke="#303030" stroke-width="1.3"/>
<path d="M374.4,106.4 H450.2 Q453.2,106.4 453.2,109 L467.2,115.2 L453.2,115.3 Q453.2,118.2 450.2,118.2 H374.4 Q371.4,118.2 371.4,115.2 V109.4 Q371.4,106.4 374.4,106.4 Z" fill="#fff" stroke="#333" stroke-width="0.85"/>
<text x="377.0" y="114.4" font-size="5.9" fill="#1e1e1e" font-weight="bold" font-style="normal" textLength="71.0" lengthAdjust="spacingAndGlyphs">Volume Profile of Range</text>
<rect x="745.2" y="64.2" width="29.2" height="8.8" rx="2" fill="#fff" stroke="#444" stroke-width="0.7"/><text x="750.3" y="70.7" font-size="5.9" fill="#1e1e1e" font-weight="bold" font-style="normal" textLength="20.1" lengthAdjust="spacingAndGlyphs">150.36</text>
<rect x="745.2" y="89.3" width="29.2" height="8.8" rx="2" fill="#fff" stroke="#444" stroke-width="0.7"/><text x="750.3" y="95.8" font-size="5.9" fill="#1e1e1e" font-weight="bold" font-style="normal" textLength="20.1" lengthAdjust="spacingAndGlyphs">138.77</text>
<rect x="745.5" y="129.4" width="28.5" height="8.8" rx="2" fill="#fff" stroke="#444" stroke-width="0.7"/><text x="750.3" y="135.9" font-size="5.9" fill="#1e1e1e" font-weight="bold" font-style="normal" textLength="20.1" lengthAdjust="spacingAndGlyphs">120.59</text>
<path d="M753,111.3 H777.8 Q780.3,111.3 780.3,113.8 V119.1 Q780.3,121.6 777.8,121.6 H753 Q750.5,121.6 750.5,119.1 V117.3 L749.8,116.4 L750.5,115.5 V113.8 Q750.5,111.3 753,111.3 Z" fill="#fff" stroke="#444" stroke-width="0.7"/>
<text x="755.2" y="118.6" font-size="5.9" fill="#1e1e1e" font-weight="bold" font-style="normal" textLength="20.7" lengthAdjust="spacingAndGlyphs">128.43</text>
<text x="815.8" y="178.7" font-size="5.6" fill="#1e1e1e" font-weight="bold" font-style="italic" textLength="20.2" lengthAdjust="spacingAndGlyphs">POC at</text>
<rect x="838.2" y="172.6" width="25.9" height="8.6" rx="1.8" fill="#fff" stroke="#444" stroke-width="0.7"/>
<text x="843.3" y="178.8" font-size="5.2" fill="#222" font-weight="normal" font-style="normal" textLength="17.0" lengthAdjust="spacingAndGlyphs">100.93</text>
<text x="815.8" y="240.0" font-size="5.6" fill="#1e1e1e" font-weight="bold" font-style="italic" textLength="20.2" lengthAdjust="spacingAndGlyphs">POC at</text>
<rect x="838.2" y="234.3" width="23.8" height="7.8" rx="1.8" fill="#fff" stroke="#444" stroke-width="0.7"/>
<text x="842.2" y="240.1" font-size="5.2" fill="#222" font-weight="normal" font-style="normal" textLength="15.0" lengthAdjust="spacingAndGlyphs">73.08</text>
<text x="815.8" y="274.4" font-size="5.6" fill="#1e1e1e" font-weight="bold" font-style="italic" textLength="20.2" lengthAdjust="spacingAndGlyphs">POC at</text>
<rect x="838.2" y="268.5" width="23.8" height="8.2" rx="1.8" fill="#fff" stroke="#444" stroke-width="0.7"/>
<text x="842.2" y="274.5" font-size="5.2" fill="#222" font-weight="normal" font-style="normal" textLength="15.0" lengthAdjust="spacingAndGlyphs">57.71</text>
<rect x="967.4" y="218.2" width="24.6" height="5.4" rx="1" fill="#111"/>
<text x="968.6" y="222.6" font-size="4.8" fill="#fff" font-weight="normal" font-style="normal" textLength="22.0" lengthAdjust="spacingAndGlyphs">SOLUSDT</text>
<rect x="993.2" y="218.2" width="26.6" height="9.8" rx="1" fill="#111"/>
<text x="997.0" y="222.4" font-size="4.8" fill="#fff" font-weight="normal" font-style="normal" textLength="12.6" lengthAdjust="spacingAndGlyphs">81.37</text>
<text x="997.2" y="226.9" font-size="4.8" fill="#fff" font-weight="normal" font-style="normal" textLength="21.4" lengthAdjust="spacingAndGlyphs">13:02:14</text>
<rect x="993.5" y="9.8" width="25" height="8" fill="none" stroke="#f3f3f3" stroke-width="0.6"/>
<text x="998.8" y="15.1" font-size="4.6" fill="#2a2a2a" font-weight="normal" font-style="normal" textLength="11.8" lengthAdjust="spacingAndGlyphs">USDT</text>
<text x="997.3" y="26.7" font-size="5.3" fill="#262626" font-weight="normal" font-style="normal" textLength="16.0" lengthAdjust="spacingAndGlyphs">170.00</text>
<text x="997.3" y="37.7" font-size="5.3" fill="#262626" font-weight="normal" font-style="normal" textLength="16.0" lengthAdjust="spacingAndGlyphs">165.00</text>
<text x="997.3" y="48.7" font-size="5.3" fill="#262626" font-weight="normal" font-style="normal" textLength="16.0" lengthAdjust="spacingAndGlyphs">160.00</text>
<text x="997.3" y="59.7" font-size="5.3" fill="#262626" font-weight="normal" font-style="normal" textLength="16.0" lengthAdjust="spacingAndGlyphs">155.00</text>
<text x="997.3" y="70.7" font-size="5.3" fill="#262626" font-weight="normal" font-style="normal" textLength="16.0" lengthAdjust="spacingAndGlyphs">150.00</text>
<text x="997.3" y="81.7" font-size="5.3" fill="#262626" font-weight="normal" font-style="normal" textLength="16.0" lengthAdjust="spacingAndGlyphs">145.00</text>
<text x="997.3" y="92.7" font-size="5.3" fill="#262626" font-weight="normal" font-style="normal" textLength="16.0" lengthAdjust="spacingAndGlyphs">140.00</text>
<text x="997.3" y="103.7" font-size="5.3" fill="#262626" font-weight="normal" font-style="normal" textLength="16.0" lengthAdjust="spacingAndGlyphs">135.00</text>
<text x="997.3" y="114.7" font-size="5.3" fill="#262626" font-weight="normal" font-style="normal" textLength="16.0" lengthAdjust="spacingAndGlyphs">130.00</text>
<text x="997.3" y="125.7" font-size="5.3" fill="#262626" font-weight="normal" font-style="normal" textLength="16.0" lengthAdjust="spacingAndGlyphs">125.00</text>
<text x="997.3" y="136.7" font-size="5.3" fill="#262626" font-weight="normal" font-style="normal" textLength="16.0" lengthAdjust="spacingAndGlyphs">120.00</text>
<text x="997.3" y="147.7" font-size="5.3" fill="#262626" font-weight="normal" font-style="normal" textLength="16.0" lengthAdjust="spacingAndGlyphs">115.00</text>
<text x="997.3" y="158.7" font-size="5.3" fill="#262626" font-weight="normal" font-style="normal" textLength="16.0" lengthAdjust="spacingAndGlyphs">110.00</text>
<text x="997.3" y="169.7" font-size="5.3" fill="#262626" font-weight="normal" font-style="normal" textLength="16.0" lengthAdjust="spacingAndGlyphs">105.00</text>
<text x="997.3" y="180.7" font-size="5.3" fill="#262626" font-weight="normal" font-style="normal" textLength="16.0" lengthAdjust="spacingAndGlyphs">100.00</text>
<text x="997.3" y="191.7" font-size="5.3" fill="#262626" font-weight="normal" font-style="normal" textLength="13.2" lengthAdjust="spacingAndGlyphs">95.00</text>
<text x="997.3" y="202.7" font-size="5.3" fill="#262626" font-weight="normal" font-style="normal" textLength="13.2" lengthAdjust="spacingAndGlyphs">90.00</text>
<text x="997.3" y="213.7" font-size="5.3" fill="#262626" font-weight="normal" font-style="normal" textLength="13.2" lengthAdjust="spacingAndGlyphs">85.00</text>
<text x="997.3" y="235.7" font-size="5.3" fill="#262626" font-weight="normal" font-style="normal" textLength="13.2" lengthAdjust="spacingAndGlyphs">75.00</text>
<text x="997.3" y="246.7" font-size="5.3" fill="#262626" font-weight="normal" font-style="normal" textLength="13.2" lengthAdjust="spacingAndGlyphs">70.00</text>
<text x="997.3" y="257.7" font-size="5.3" fill="#262626" font-weight="normal" font-style="normal" textLength="13.2" lengthAdjust="spacingAndGlyphs">65.00</text>
<text x="997.3" y="268.7" font-size="5.3" fill="#262626" font-weight="normal" font-style="normal" textLength="13.2" lengthAdjust="spacingAndGlyphs">60.00</text>
<text x="997.3" y="279.7" font-size="5.3" fill="#262626" font-weight="normal" font-style="normal" textLength="13.2" lengthAdjust="spacingAndGlyphs">55.00</text>
<text x="12.8" y="14.3" font-size="4.6" fill="#4a4a4a" font-weight="normal" font-style="normal" font-family='"Liberation Mono", "DejaVu Sans Mono", monospace' textLength="75.5" lengthAdjust="spacingAndGlyphs">SOL / TetherUS · 1D · Binance</text>
<text x="90.8" y="14.3" font-size="4.6" fill="#4a4a4a" font-weight="normal" font-style="normal" font-family='"Liberation Mono", "DejaVu Sans Mono", monospace' textLength="17.0" lengthAdjust="spacingAndGlyphs">O78.14</text>
<text x="111.3" y="14.3" font-size="4.6" fill="#4a4a4a" font-weight="normal" font-style="normal" font-family='"Liberation Mono", "DejaVu Sans Mono", monospace' textLength="17.1" lengthAdjust="spacingAndGlyphs">H87.89</text>
<text x="131.8" y="14.3" font-size="4.6" fill="#4a4a4a" font-weight="normal" font-style="normal" font-family='"Liberation Mono", "DejaVu Sans Mono", monospace' textLength="16.7" lengthAdjust="spacingAndGlyphs">L67.98</text>
<text x="150.2" y="14.3" font-size="4.6" fill="#4a4a4a" font-weight="normal" font-style="normal" font-family='"Liberation Mono", "DejaVu Sans Mono", monospace' textLength="16.8" lengthAdjust="spacingAndGlyphs">C81.17</text>
<text x="170.9" y="14.3" font-size="4.6" fill="#4a4a4a" font-weight="normal" font-style="normal" font-family='"Liberation Mono", "DejaVu Sans Mono", monospace' textLength="14.4" lengthAdjust="spacingAndGlyphs">+2.92</text>
<text x="186.9" y="14.3" font-size="4.6" fill="#4a4a4a" font-weight="normal" font-style="normal" font-family='"Liberation Mono", "DejaVu Sans Mono", monospace' textLength="23.8" lengthAdjust="spacingAndGlyphs">(+3.60%)</text>
<text x="13.5" y="20.1" font-size="4.6" fill="#4a4a4a" font-weight="normal" font-style="normal" font-family='"Liberation Mono", "DejaVu Sans Mono", monospace' textLength="7.8" lengthAdjust="spacingAndGlyphs">MA</text>
<text x="23.2" y="20.1" font-size="4.6" fill="#4a4a4a" font-weight="normal" font-style="normal" font-family='"Liberation Mono", "DejaVu Sans Mono", monospace' textLength="16.6" lengthAdjust="spacingAndGlyphs">Ribbon</text>
<text x="43.2" y="20.1" font-size="4.6" fill="#4a4a4a" font-weight="normal" font-style="normal" font-family='"Liberation Mono", "DejaVu Sans Mono", monospace' textLength="16.1" lengthAdjust="spacingAndGlyphs">167.80</text>
<line x1="10" y1="287.3" x2="1024" y2="287.3" stroke="#eeeeee" stroke-width="0.8"/>
<line x1="10" y1="321.4" x2="1024" y2="321.4" stroke="#eeeeee" stroke-width="0.8"/>
<line x1="10" y1="398" x2="1024" y2="398" stroke="#eeeeee" stroke-width="0.8"/>
<g><rect x="10.17" y="313.7" width="2.0" height="7.0" fill="#767676"/><rect x="12.52" y="314.3" width="2.0" height="6.4" fill="#767676"/><rect x="14.86" y="313.1" width="2.0" height="7.6" fill="#cfcfcf"/><rect x="17.20" y="313.7" width="2.0" height="7.0" fill="#8f8f8f"/><rect x="20.13" y="313.1" width="2.0" height="7.6" fill="#8f8f8f"/><rect x="22.83" y="309.8" width="2.0" height="10.9" fill="#767676"/><rect x="25.99" y="314.1" width="2.0" height="6.6" fill="#cfcfcf"/><rect x="28.34" y="314.9" width="2.0" height="5.8" fill="#cfcfcf"/><rect x="30.68" y="313.7" width="2.0" height="7.0" fill="#8f8f8f"/><rect x="33.61" y="312.5" width="2.0" height="8.2" fill="#8f8f8f"/><rect x="35.95" y="315.2" width="2.0" height="5.5" fill="#767676"/><rect x="38.88" y="308.1" width="2.0" height="12.6" fill="#767676"/><rect x="41.58" y="314.9" width="2.0" height="5.8" fill="#cfcfcf"/><rect x="44.16" y="316.6" width="2.0" height="4.1" fill="#cfcfcf"/><rect x="46.50" y="316.1" width="2.0" height="4.6" fill="#cfcfcf"/><rect x="49.43" y="312.0" width="2.0" height="8.7" fill="#cfcfcf"/><rect x="52.13" y="309.6" width="2.0" height="11.1" fill="#cfcfcf"/><rect x="54.70" y="309.0" width="2.0" height="11.7" fill="#767676"/><rect x="57.05" y="312.5" width="2.0" height="8.2" fill="#8f8f8f"/><rect x="59.63" y="305.2" width="2.0" height="15.5" fill="#767676"/><rect x="62.32" y="316.1" width="2.0" height="4.6" fill="#767676"/><rect x="65.25" y="312.5" width="2.0" height="8.2" fill="#cfcfcf"/><rect x="67.60" y="310.5" width="2.0" height="10.2" fill="#767676"/><rect x="69.94" y="310.8" width="2.0" height="9.9" fill="#8f8f8f"/><rect x="72.87" y="312.5" width="2.0" height="8.2" fill="#767676"/><rect x="75.21" y="314.3" width="2.0" height="6.4" fill="#cfcfcf"/><rect x="78.14" y="310.8" width="2.0" height="9.9" fill="#767676"/><rect x="80.72" y="312.5" width="2.0" height="8.2" fill="#8f8f8f"/><rect x="83.42" y="308.4" width="2.0" height="12.3" fill="#767676"/><rect x="86.35" y="307.3" width="2.0" height="13.4" fill="#cfcfcf"/><rect x="89.28" y="313.1" width="2.0" height="7.6" fill="#cfcfcf"/><rect x="91.62" y="314.1" width="2.0" height="6.6" fill="#767676"/><rect x="94.32" y="313.7" width="2.0" height="7.0" fill="#767676"/><rect x="96.89" y="313.4" width="2.0" height="7.3" fill="#cfcfcf"/><rect x="99.82" y="313.1" width="2.0" height="7.6" fill="#cfcfcf"/><rect x="102.17" y="314.9" width="2.0" height="5.8" fill="#cfcfcf"/><rect x="104.86" y="309.4" width="2.0" height="11.3" fill="#cfcfcf"/><rect x="107.68" y="312.9" width="2.0" height="7.8" fill="#767676"/><rect x="110.02" y="313.1" width="2.0" height="7.6" fill="#cfcfcf"/><rect x="112.71" y="313.1" width="2.0" height="7.6" fill="#cfcfcf"/><rect x="115.64" y="314.1" width="2.0" height="6.6" fill="#767676"/><rect x="117.99" y="317.6" width="2.0" height="3.1" fill="#767676"/><rect x="120.92" y="313.7" width="2.0" height="7.0" fill="#cfcfcf"/><rect x="123.26" y="314.5" width="2.0" height="6.2" fill="#767676"/><rect x="126.19" y="313.1" width="2.0" height="7.6" fill="#cfcfcf"/><rect x="124.98" y="314.3" width="2.0" height="6.4" fill="#cfcfcf"/><rect x="126.93" y="313.3" width="2.0" height="7.4" fill="#cfcfcf"/><rect x="128.88" y="312.3" width="2.0" height="8.4" fill="#cfcfcf"/><rect x="131.42" y="310.4" width="2.0" height="10.3" fill="#cfcfcf"/><rect x="133.77" y="308.0" width="2.0" height="12.7" fill="#767676"/><rect x="136.11" y="314.7" width="2.0" height="6.0" fill="#767676"/><rect x="138.65" y="315.3" width="2.0" height="5.4" fill="#cfcfcf"/><rect x="141.58" y="309.4" width="2.0" height="11.3" fill="#cfcfcf"/><rect x="144.12" y="310.0" width="2.0" height="10.7" fill="#cfcfcf"/><rect x="147.05" y="306.5" width="2.0" height="14.2" fill="#cfcfcf"/><rect x="149.39" y="308.0" width="2.0" height="12.7" fill="#cfcfcf"/><rect x="152.32" y="305.5" width="2.0" height="15.2" fill="#cfcfcf"/><rect x="154.86" y="314.7" width="2.0" height="6.0" fill="#767676"/><rect x="157.59" y="310.4" width="2.0" height="10.3" fill="#cfcfcf"/><rect x="160.13" y="301.6" width="2.0" height="19.1" fill="#cfcfcf"/><rect x="163.06" y="295.2" width="2.0" height="25.5" fill="#cfcfcf"/><rect x="165.60" y="304.1" width="2.0" height="16.6" fill="#767676"/><rect x="168.53" y="305.1" width="2.0" height="15.6" fill="#767676"/><rect x="171.27" y="308.0" width="2.0" height="12.7" fill="#cfcfcf"/><rect x="173.80" y="315.3" width="2.0" height="5.4" fill="#767676"/><rect x="175.76" y="314.3" width="2.0" height="6.4" fill="#cfcfcf"/><rect x="179.08" y="308.8" width="2.0" height="11.9" fill="#767676"/><rect x="181.81" y="313.7" width="2.0" height="7.0" fill="#767676"/><rect x="184.16" y="311.0" width="2.0" height="9.7" fill="#767676"/><rect x="186.89" y="313.3" width="2.0" height="7.4" fill="#767676"/><rect x="189.62" y="308.0" width="2.0" height="12.7" fill="#767676"/><rect x="191.97" y="314.3" width="2.0" height="6.4" fill="#767676"/><rect x="194.31" y="313.3" width="2.0" height="7.4" fill="#cfcfcf"/><rect x="196.85" y="313.9" width="2.0" height="6.8" fill="#cfcfcf"/><rect x="199.20" y="313.3" width="2.0" height="7.4" fill="#cfcfcf"/><rect x="200.56" y="313.9" width="2.0" height="6.8" fill="#767676"/><rect x="202.52" y="315.3" width="2.0" height="5.4" fill="#cfcfcf"/><rect x="205.05" y="312.3" width="2.0" height="8.4" fill="#cfcfcf"/><rect x="207.59" y="310.0" width="2.0" height="10.7" fill="#cfcfcf"/><rect x="209.94" y="311.0" width="2.0" height="9.7" fill="#cfcfcf"/><rect x="212.87" y="308.8" width="2.0" height="11.9" fill="#cfcfcf"/><rect x="215.80" y="308.8" width="2.0" height="11.9" fill="#767676"/><rect x="218.73" y="305.5" width="2.0" height="15.2" fill="#cfcfcf"/><rect x="221.66" y="299.6" width="2.0" height="21.1" fill="#cfcfcf"/><rect x="224.00" y="294.2" width="2.0" height="26.5" fill="#767676"/><rect x="226.54" y="308.0" width="2.0" height="12.7" fill="#767676"/><rect x="229.47" y="314.3" width="2.0" height="6.4" fill="#cfcfcf"/><rect x="232.40" y="314.3" width="2.0" height="6.4" fill="#cfcfcf"/><rect x="234.74" y="310.8" width="2.0" height="9.9" fill="#767676"/><rect x="237.28" y="310.8" width="2.0" height="9.9" fill="#767676"/><rect x="239.62" y="311.4" width="2.0" height="9.3" fill="#cfcfcf"/><rect x="242.16" y="312.3" width="2.0" height="8.4" fill="#767676"/><rect x="245.09" y="301.6" width="2.0" height="19.1" fill="#cfcfcf"/><rect x="247.63" y="306.5" width="2.0" height="14.2" fill="#cfcfcf"/><rect x="250.56" y="300.2" width="2.0" height="20.5" fill="#cfcfcf"/><rect x="252.91" y="297.1" width="2.0" height="23.6" fill="#767676"/><rect x="255.25" y="306.5" width="2.0" height="14.2" fill="#cfcfcf"/><rect x="257.98" y="297.7" width="2.0" height="23.0" fill="#cfcfcf"/><rect x="260.72" y="299.6" width="2.0" height="21.1" fill="#cfcfcf"/><rect x="263.65" y="295.2" width="2.0" height="25.5" fill="#767676"/><rect x="266.19" y="309.4" width="2.0" height="11.3" fill="#767676"/><rect x="268.92" y="311.0" width="2.0" height="9.7" fill="#767676"/><rect x="271.46" y="308.0" width="2.0" height="12.7" fill="#767676"/><rect x="274.39" y="306.1" width="2.0" height="14.6" fill="#cfcfcf"/><rect x="276.93" y="308.8" width="2.0" height="11.9" fill="#cfcfcf"/><rect x="279.66" y="312.9" width="2.0" height="7.8" fill="#767676"/><rect x="281.81" y="308.8" width="2.0" height="11.9" fill="#cfcfcf"/><rect x="284.55" y="316.6" width="2.0" height="4.1" fill="#767676"/><rect x="287.09" y="314.3" width="2.0" height="6.4" fill="#cfcfcf"/><rect x="290.02" y="303.9" width="2.0" height="16.8" fill="#cfcfcf"/><rect x="292.36" y="306.1" width="2.0" height="14.6" fill="#cfcfcf"/><rect x="294.90" y="306.5" width="2.0" height="14.2" fill="#cfcfcf"/><rect x="297.83" y="308.0" width="2.0" height="12.7" fill="#cfcfcf"/><rect x="300.76" y="303.6" width="2.0" height="17.1" fill="#cfcfcf"/><rect x="303.30" y="311.0" width="2.0" height="9.7" fill="#cfcfcf"/><rect x="306.03" y="308.4" width="2.0" height="12.3" fill="#767676"/><rect x="308.57" y="306.5" width="2.0" height="14.2" fill="#767676"/><rect x="311.11" y="311.8" width="2.0" height="8.9" fill="#cfcfcf"/><rect x="313.84" y="306.5" width="2.0" height="14.2" fill="#cfcfcf"/><rect x="316.38" y="310.0" width="2.0" height="10.7" fill="#cfcfcf"/><rect x="318.92" y="310.8" width="2.0" height="9.9" fill="#767676"/><rect x="324.59" y="316.6" width="2.0" height="4.1" fill="#767676"/><rect x="326.93" y="303.9" width="2.0" height="16.8" fill="#767676"/><rect x="329.47" y="311.0" width="2.0" height="9.7" fill="#767676"/><rect x="332.20" y="308.0" width="2.0" height="12.7" fill="#767676"/><rect x="334.74" y="301.0" width="2.0" height="19.7" fill="#767676"/><rect x="337.67" y="304.1" width="2.0" height="16.6" fill="#cfcfcf"/><rect x="340.60" y="314.7" width="2.0" height="6.0" fill="#767676"/><rect x="342.95" y="314.3" width="2.0" height="6.4" fill="#cfcfcf"/><rect x="345.48" y="312.0" width="2.0" height="8.7" fill="#cfcfcf"/><rect x="347.83" y="311.0" width="2.0" height="9.7" fill="#767676"/><rect x="350.76" y="309.4" width="2.0" height="11.3" fill="#cfcfcf"/><rect x="353.30" y="307.5" width="2.0" height="13.2" fill="#cfcfcf"/><rect x="355.84" y="308.4" width="2.0" height="12.3" fill="#767676"/><rect x="358.57" y="315.7" width="2.0" height="5.0" fill="#767676"/><rect x="361.11" y="312.3" width="2.0" height="8.4" fill="#cfcfcf"/><rect x="364.04" y="312.3" width="2.0" height="8.4" fill="#cfcfcf"/><rect x="366.58" y="308.0" width="2.0" height="12.7" fill="#767676"/><rect x="369.31" y="312.3" width="2.0" height="8.4" fill="#cfcfcf"/><rect x="371.85" y="311.0" width="2.0" height="9.7" fill="#767676"/><rect x="374.39" y="292.4" width="2.0" height="28.3" fill="#767676"/><rect x="377.32" y="299.6" width="2.0" height="21.1" fill="#767676"/><rect x="380.25" y="302.2" width="2.0" height="18.5" fill="#cfcfcf"/><rect x="382.59" y="302.6" width="2.0" height="18.1" fill="#cfcfcf"/><rect x="385.13" y="299.6" width="2.0" height="21.1" fill="#767676"/><rect x="387.87" y="305.1" width="2.0" height="15.6" fill="#767676"/><rect x="390.80" y="305.1" width="2.0" height="15.6" fill="#767676"/><rect x="393.14" y="302.6" width="2.0" height="18.1" fill="#767676"/><rect x="395.88" y="314.7" width="2.0" height="6.0" fill="#cfcfcf"/><rect x="398.61" y="313.9" width="2.0" height="6.8" fill="#cfcfcf"/><rect x="401.15" y="312.0" width="2.0" height="8.7" fill="#cfcfcf"/><rect x="404.08" y="307.1" width="2.0" height="13.6" fill="#767676"/><rect x="406.42" y="309.0" width="2.0" height="11.7" fill="#767676"/><rect x="408.96" y="310.4" width="2.0" height="10.3" fill="#cfcfcf"/><rect x="411.50" y="311.0" width="2.0" height="9.7" fill="#cfcfcf"/><rect x="414.23" y="316.2" width="2.0" height="4.4" fill="#cfcfcf"/><rect x="417.16" y="313.3" width="2.0" height="7.4" fill="#cfcfcf"/><rect x="419.70" y="310.4" width="2.0" height="10.3" fill="#767676"/><rect x="422.24" y="308.0" width="2.0" height="12.7" fill="#767676"/><rect x="424.78" y="307.1" width="2.0" height="13.6" fill="#767676"/><rect x="427.52" y="306.1" width="2.0" height="14.6" fill="#767676"/><rect x="430.45" y="312.0" width="2.0" height="8.7" fill="#cfcfcf"/><rect x="432.98" y="316.6" width="2.0" height="4.1" fill="#cfcfcf"/><rect x="435.33" y="315.9" width="2.0" height="4.8" fill="#cfcfcf"/><rect x="437.87" y="299.6" width="2.0" height="21.1" fill="#767676"/><rect x="440.60" y="296.1" width="2.0" height="24.6" fill="#767676"/><rect x="443.14" y="307.5" width="2.0" height="13.2" fill="#cfcfcf"/><rect x="445.68" y="310.4" width="2.0" height="10.3" fill="#767676"/><rect x="448.41" y="308.4" width="2.0" height="12.3" fill="#cfcfcf"/><rect x="450.95" y="313.9" width="2.0" height="6.8" fill="#767676"/><rect x="453.49" y="312.3" width="2.0" height="8.4" fill="#cfcfcf"/><rect x="456.03" y="310.4" width="2.0" height="10.3" fill="#cfcfcf"/><rect x="458.77" y="307.1" width="2.0" height="13.6" fill="#767676"/><rect x="461.30" y="308.8" width="2.0" height="11.9" fill="#767676"/><rect x="464.23" y="304.5" width="2.0" height="16.2" fill="#767676"/><rect x="467.16" y="302.6" width="2.0" height="18.1" fill="#767676"/><rect x="470.09" y="313.9" width="2.0" height="6.8" fill="#cfcfcf"/><rect x="472.44" y="311.0" width="2.0" height="9.7" fill="#767676"/><rect x="474.98" y="304.1" width="2.0" height="16.6" fill="#767676"/><rect x="477.71" y="304.5" width="2.0" height="16.2" fill="#cfcfcf"/><rect x="480.25" y="308.0" width="2.0" height="12.7" fill="#767676"/><rect x="483.18" y="300.2" width="2.0" height="20.5" fill="#767676"/><rect x="485.72" y="296.1" width="2.0" height="24.6" fill="#767676"/><rect x="488.06" y="313.3" width="2.0" height="7.4" fill="#767676"/><rect x="490.60" y="313.3" width="2.0" height="7.4" fill="#cfcfcf"/><rect x="493.53" y="306.5" width="2.0" height="14.2" fill="#cfcfcf"/><rect x="495.88" y="312.3" width="2.0" height="8.4" fill="#cfcfcf"/><rect x="498.41" y="309.4" width="2.0" height="11.3" fill="#cfcfcf"/><rect x="501.15" y="314.3" width="2.0" height="6.4" fill="#767676"/><rect x="503.69" y="310.4" width="2.0" height="10.3" fill="#767676"/><rect x="506.23" y="315.3" width="2.0" height="5.4" fill="#767676"/><rect x="508.77" y="313.3" width="2.0" height="7.4" fill="#767676"/><rect x="511.50" y="306.1" width="2.0" height="14.6" fill="#cfcfcf"/><rect x="513.84" y="306.1" width="2.0" height="14.6" fill="#cfcfcf"/><rect x="516.97" y="309.4" width="2.0" height="11.3" fill="#cfcfcf"/><rect x="524.98" y="316.1" width="2.0" height="4.6" fill="#767676"/><rect x="527.91" y="311.6" width="2.0" height="9.1" fill="#cfcfcf"/><rect x="530.84" y="311.6" width="2.0" height="9.1" fill="#cfcfcf"/><rect x="533.38" y="307.3" width="2.0" height="13.4" fill="#767676"/><rect x="536.11" y="307.3" width="2.0" height="13.4" fill="#767676"/><rect x="538.65" y="308.3" width="2.0" height="12.4" fill="#cfcfcf"/><rect x="541.58" y="308.9" width="2.0" height="11.8" fill="#767676"/><rect x="544.12" y="316.1" width="2.0" height="4.6" fill="#cfcfcf"/><rect x="546.85" y="315.5" width="2.0" height="5.2" fill="#767676"/><rect x="549.00" y="309.3" width="2.0" height="11.4" fill="#767676"/><rect x="551.73" y="312.2" width="2.0" height="8.5" fill="#cfcfcf"/><rect x="554.27" y="307.3" width="2.0" height="13.4" fill="#767676"/><rect x="557.20" y="306.4" width="2.0" height="14.3" fill="#767676"/><rect x="559.74" y="308.9" width="2.0" height="11.8" fill="#cfcfcf"/><rect x="562.48" y="317.1" width="2.0" height="3.6" fill="#767676"/><rect x="565.02" y="315.2" width="2.0" height="5.5" fill="#cfcfcf"/><rect x="567.55" y="312.8" width="2.0" height="7.9" fill="#767676"/><rect x="570.29" y="313.8" width="2.0" height="6.9" fill="#767676"/><rect x="572.83" y="315.5" width="2.0" height="5.2" fill="#767676"/><rect x="575.37" y="315.5" width="2.0" height="5.2" fill="#767676"/><rect x="578.10" y="311.2" width="2.0" height="9.4" fill="#cfcfcf"/><rect x="580.64" y="317.1" width="2.0" height="3.6" fill="#cfcfcf"/><rect x="583.18" y="316.1" width="2.0" height="4.6" fill="#cfcfcf"/><rect x="586.11" y="308.3" width="2.0" height="12.4" fill="#767676"/><rect x="588.84" y="314.2" width="2.0" height="6.5" fill="#cfcfcf"/><rect x="591.38" y="312.2" width="2.0" height="8.5" fill="#767676"/><rect x="593.92" y="316.1" width="2.0" height="4.6" fill="#cfcfcf"/><rect x="596.66" y="312.2" width="2.0" height="8.5" fill="#cfcfcf"/><rect x="599.20" y="316.1" width="2.0" height="4.6" fill="#cfcfcf"/><rect x="601.73" y="315.7" width="2.0" height="5.0" fill="#cfcfcf"/><rect x="604.47" y="311.2" width="2.0" height="9.4" fill="#cfcfcf"/><rect x="607.01" y="310.3" width="2.0" height="10.4" fill="#cfcfcf"/><rect x="609.94" y="314.2" width="2.0" height="6.5" fill="#767676"/><rect x="612.48" y="312.2" width="2.0" height="8.5" fill="#cfcfcf"/><rect x="615.21" y="310.3" width="2.0" height="10.4" fill="#767676"/><rect x="617.75" y="317.5" width="2.0" height="3.2" fill="#767676"/><rect x="620.68" y="314.2" width="2.0" height="6.5" fill="#cfcfcf"/><rect x="623.22" y="308.3" width="2.0" height="12.4" fill="#cfcfcf"/><rect x="625.95" y="309.3" width="2.0" height="11.4" fill="#cfcfcf"/><rect x="628.49" y="310.3" width="2.0" height="10.4" fill="#cfcfcf"/><rect x="631.03" y="313.6" width="2.0" height="7.1" fill="#767676"/><rect x="633.77" y="315.2" width="2.0" height="5.5" fill="#cfcfcf"/><rect x="636.30" y="318.7" width="2.0" height="2.0" fill="#767676"/><rect x="638.84" y="315.5" width="2.0" height="5.2" fill="#767676"/><rect x="641.19" y="312.2" width="2.0" height="8.5" fill="#767676"/><rect x="643.92" y="310.3" width="2.0" height="10.4" fill="#767676"/><rect x="646.66" y="311.6" width="2.0" height="9.1" fill="#cfcfcf"/><rect x="649.39" y="315.2" width="2.0" height="5.5" fill="#767676"/><rect x="651.93" y="314.8" width="2.0" height="5.9" fill="#767676"/><rect x="654.86" y="318.7" width="2.0" height="2.0" fill="#767676"/><rect x="657.59" y="307.3" width="2.0" height="13.4" fill="#767676"/><rect x="660.33" y="314.2" width="2.0" height="6.5" fill="#cfcfcf"/><rect x="663.06" y="314.8" width="2.0" height="5.9" fill="#cfcfcf"/><rect x="665.60" y="314.8" width="2.0" height="5.9" fill="#767676"/><rect x="668.14" y="310.3" width="2.0" height="10.4" fill="#767676"/><rect x="670.88" y="306.4" width="2.0" height="14.3" fill="#767676"/><rect x="673.41" y="295.6" width="2.0" height="25.1" fill="#767676"/><rect x="675.95" y="308.3" width="2.0" height="12.4" fill="#767676"/><rect x="678.69" y="304.4" width="2.0" height="16.3" fill="#cfcfcf"/><rect x="681.23" y="307.0" width="2.0" height="13.7" fill="#767676"/><rect x="683.77" y="302.1" width="2.0" height="18.6" fill="#767676"/><rect x="686.70" y="290.7" width="2.0" height="30.0" fill="#767676"/><rect x="689.62" y="300.5" width="2.0" height="20.2" fill="#cfcfcf"/></g>
<text x="14.4" y="293.7" font-size="4.6" fill="#4a4a4a" font-weight="normal" font-style="normal" font-family='"Liberation Mono", "DejaVu Sans Mono", monospace' textLength="21.4" lengthAdjust="spacingAndGlyphs">Vol · SOL</text>
<text x="39.3" y="293.7" font-size="4.6" fill="#b5b5b5" font-weight="normal" font-style="normal" font-family='"Liberation Mono", "DejaVu Sans Mono", monospace' textLength="15.8" lengthAdjust="spacingAndGlyphs">6.75 M</text>
<text x="997" y="298.5" font-size="4.6" fill="#444">8 M</text>
<text x="997" y="310.8" font-size="4.6" fill="#444">4 M</text>
<circle cx="690" cy="282.3" r="3.2" fill="#fff" stroke="#b06ad0" stroke-width="0.7"/>
<path d="M688.6,281.3 L691.4,281.3 L690,283.6 Z" fill="#333"/>
<rect x="10" y="330.1" width="983" height="41.4" fill="#e5e5e5"/>
<line x1="10" y1="330.1" x2="993" y2="330.1" stroke="#c9c9c9" stroke-width="0.8"/>
<line x1="10" y1="346.5" x2="993" y2="346.5" stroke="#a9a9a9" stroke-width="0.8"/>
<line x1="10" y1="371.4" x2="993" y2="371.4" stroke="#c9c9c9" stroke-width="0.8"/>
<path d="M10.0,336.2 C11.4,336.5 14.2,336.6 18.5,338.0 C22.8,339.4 31.0,342.7 35.6,344.8 C40.2,346.9 42.5,349.5 45.9,350.8 C49.3,352.1 52.1,352.5 56.1,352.8 C60.1,353.1 65.5,352.4 69.8,352.5 C74.1,352.6 77.5,352.7 81.8,353.3 C86.1,353.9 90.9,356.0 95.4,355.9 C100.0,355.8 104.8,353.6 109.1,352.5 C113.4,351.4 117.1,350.4 121.1,349.0 C125.1,347.6 128.7,345.5 133.0,343.9 C137.3,342.3 142.4,341.3 146.7,339.6 C151.0,337.9 155.2,335.2 158.6,333.7 C162.0,332.1 164.5,330.6 167.2,330.3 C169.9,330.0 172.3,331.2 175.0,331.7 C177.7,332.2 180.7,332.3 183.5,333.4 C186.3,334.5 189.0,336.5 192.1,338.5 C195.2,340.5 198.3,344.0 202.3,345.3 C206.3,346.6 211.4,346.5 216.0,346.2 C220.6,345.9 225.1,344.5 229.7,343.6 C234.2,342.8 238.8,341.7 243.3,341.1 C247.9,340.5 252.4,340.2 257.0,340.2 C261.6,340.2 266.1,341.1 270.7,341.1 C275.2,341.1 279.8,340.6 284.3,340.2 C288.9,339.8 293.4,339.5 298.0,338.5 C302.6,337.5 307.4,335.3 311.7,334.2 C316.0,333.1 320.2,331.7 323.6,331.7 C327.0,331.7 329.5,332.8 332.2,334.2 C334.9,335.6 337.0,338.3 340.0,340.2 C343.0,342.1 346.9,344.2 350.3,345.3 C353.7,346.4 356.5,347.0 360.5,347.0 C364.5,347.0 369.1,344.9 374.2,345.3 C379.3,345.7 386.2,348.2 391.3,349.6 C396.4,351.0 400.9,353.5 404.9,353.9 C408.9,354.3 411.2,352.5 415.2,352.2 C419.2,351.9 424.2,351.8 428.8,352.2 C433.4,352.6 437.9,353.6 442.5,354.7 C447.1,355.8 451.6,357.3 456.2,359.0 C460.8,360.7 465.2,363.6 469.8,365.0 C474.4,366.4 478.9,367.6 483.5,367.5 C488.1,367.4 493.6,365.1 497.2,364.1 C500.8,363.1 500.9,362.7 505.0,361.6 C509.1,360.5 516.4,358.7 522.1,357.3 C527.8,355.9 533.5,353.4 539.2,353.0 C544.9,352.6 550.6,354.0 556.3,354.7 C562.0,355.4 568.2,356.7 573.3,357.3 C578.4,357.9 583.0,358.8 587.0,358.2 C591.0,357.6 593.9,355.9 597.3,353.9 C600.7,351.9 603.5,348.5 607.5,346.2 C611.5,343.9 616.7,341.8 621.2,340.2 C625.8,338.6 631.4,337.1 634.8,336.5 C638.2,335.9 638.3,335.6 641.7,336.8 C645.1,338.0 651.3,341.3 655.3,343.6 C659.3,345.9 661.9,347.9 665.6,350.5 C669.3,353.1 674.4,357.0 677.4,359.1 C680.4,361.2 681.8,361.5 683.9,362.9 C686.0,364.3 689.1,366.7 690.1,367.5" fill="none" stroke="#a8a8a8" stroke-width="0.8"/>
<line x1="84.3" y1="367.8" x2="176.6" y2="320.9" stroke="#333" stroke-width="0.8"/>
<line x1="185.3" y1="359.5" x2="335.6" y2="328.6" stroke="#333" stroke-width="0.8"/>
<line x1="316" y1="329.3" x2="512" y2="372.5" stroke="#333" stroke-width="0.8"/>
<line x1="474.1" y1="376.4" x2="573.3" y2="339.4" stroke="#c07474" stroke-width="0.8"/>
<line x1="519.5" y1="346.2" x2="624.6" y2="367.2" stroke="#c07474" stroke-width="0.8"/>
<line x1="558.8" y1="366.7" x2="693.3" y2="340.1" stroke="#c07474" stroke-width="0.8"/>
<polyline points="10.0,337.1 15.1,337.1 17.7,338.8 20.3,345.6 23.7,355.0 26.2,355.9 28.8,354.2 33.9,356.7 37.3,360.2 39.9,366.5 42.5,361.0 46.7,355.0 50.2,345.6 53.1,341.4 56.1,347.3 59.5,354.2 63.3,359.3 65.5,350.4 68.9,352.5 72.4,355.0 75.8,355.0 78.3,358.4 81.8,364.4 84.3,367.8 86.9,352.5 89.4,350.4 92.0,352.5 95.4,355.9 98.8,349.0 102.3,343.1 105.7,341.9 108.2,347.3 111.7,343.9 114.2,344.8 117.6,348.2 121.1,344.8 123.6,347.3 127.9,342.2 132.2,336.2 136.4,337.9 139.8,339.6 145.0,337.1 148.4,331.1 151.8,330.3 156.1,329.4 160.3,324.3 163.8,322.6 166.3,332.0 168.9,337.1 172.3,336.2 176.6,336.7 177.6,336.0 181.0,340.2 185.3,345.3 188.7,352.2 191.7,357.3 194.6,354.7 198.1,348.4 200.6,350.5 205.8,343.6 210.0,341.6 214.3,339.4 216.9,344.5 219.4,335.9 222.0,333.0 224.5,336.8 227.1,341.1 231.4,339.4 234.8,343.6 238.6,348.4 240.8,342.8 243.0,346.2 245.9,337.6 250.2,336.0 251.9,336.8 254.4,344.5 257.9,340.2 261.8,336.0 264.7,339.4 268.1,341.9 272.4,343.3 276.7,338.5 280.1,341.9 286.1,343.6 291.2,338.5 296.3,334.2 302.3,329.1 306.6,330.8 310.0,334.2 315.1,330.8 319.4,331.7 323.6,335.1 327.1,341.9 329.6,349.6 333.0,353.0 335.6,363.3 338.2,354.7 340.0,353.9 343.4,350.5 346.0,348.4 348.5,350.5 351.1,343.6 354.5,338.2 357.9,340.2 361.4,341.1 364.8,339.9 367.3,345.7 369.9,341.9 372.5,347.9 375.0,359.0 377.9,365.8 380.2,357.3 382.7,348.8 386.1,350.5 390.4,354.7 394.3,358.2 397.2,354.7 400.7,353.9 404.1,355.6 407.5,358.2 409.7,350.5 412.6,349.6 415.2,348.8 418.3,346.2 421.2,347.4 424.6,350.5 428.0,354.7 432.3,353.0 436.5,353.0 439.1,365.8 441.7,372.3 444.2,365.0 446.8,366.7 449.3,361.6 451.9,362.8 454.5,358.2 457.5,354.7 459.6,359.9 463.0,363.3 466.4,367.5 469.8,370.1 473.3,371.3 475.8,374.7 478.4,362.8 481.8,365.0 486.1,368.4 490.3,369.3 494.6,357.3 499.7,353.0 504.0,355.6 508.4,358.2 512.7,365.0 515.3,352.2 518.7,346.7 522.1,351.3 525.5,354.7 530.6,354.2 534.4,349.6 538.3,350.5 541.7,354.2 546.0,354.2 549.4,357.6 552.8,356.4 555.4,361.6 558.3,366.2 561.0,355.6 564.8,355.2 569.9,355.6 573.3,359.0 576.4,362.8 579.3,357.3 583.6,353.5 587.0,354.7 589.6,352.2 593.0,351.3 595.6,347.0 598.1,341.1 602.4,338.8 605.8,334.7 608.4,333.0 610.9,338.5 613.5,337.6 617.8,341.1 622.0,337.6 624.6,337.1 628.0,331.7 631.1,334.2 634.0,335.9 636.6,336.8 639.1,341.1 641.7,350.5 645.1,359.0 647.7,353.9 651.9,354.7 655.3,356.4 658.5,365.8 661.4,356.5 664.0,352.4 667.1,355.4 669.5,361.9 672.1,362.9 674.6,372.2 677.4,378.2 679.6,370.7 682.1,375.0 685.8,382.5 688.2,391.8 690.5,384.4" fill="none" stroke="#404040" stroke-width="1.05" stroke-linejoin="round"/>
<text x="14.7" y="328.1" font-size="4.6" fill="#4a4a4a" font-weight="normal" font-style="normal" font-family='"Liberation Mono", "DejaVu Sans Mono", monospace' textLength="7.0" lengthAdjust="spacingAndGlyphs">RSI</text>
<text x="24.9" y="328.1" font-size="4.6" fill="#333" font-weight="normal" font-style="normal" font-family='"Liberation Mono", "DejaVu Sans Mono", monospace' textLength="12.9" lengthAdjust="spacingAndGlyphs">23.87</text>
<text x="42.2" y="328.1" font-size="4.6" fill="#aaa" font-weight="normal" font-style="normal" font-family='"Liberation Mono", "DejaVu Sans Mono", monospace' textLength="12.9" lengthAdjust="spacingAndGlyphs">30.42</text>
<text x="997" y="325.5" font-size="4.8" fill="#444">80.00</text>
<text x="997" y="339.2" font-size="4.8" fill="#444">60.00</text>
<text x="997" y="358.8" font-size="4.8" fill="#444">40.00</text>
<text x="997" y="370.1" font-size="4.8" fill="#444">32.00</text>
<text x="997" y="380.3" font-size="4.8" fill="#444">26.00</text>
<text x="997" y="392.9" font-size="4.8" fill="#444">20.00</text>
<text x="14.4" y="405.6" font-size="4.6" fill="#444" font-weight="normal" font-style="normal" font-family='"Liberation Mono", "DejaVu Sans Mono", monospace' textLength="13.8" lengthAdjust="spacingAndGlyphs">Stoch</text>
<text x="30.8" y="405.6" font-size="4.6" fill="#444" font-weight="normal" font-style="normal" font-family='"Liberation Mono", "DejaVu Sans Mono", monospace' textLength="13.8" lengthAdjust="spacingAndGlyphs">22.47</text>
<text x="48.1" y="405.6" font-size="4.6" fill="#444" font-weight="normal" font-style="normal" font-family='"Liberation Mono", "DejaVu Sans Mono", monospace' textLength="12.6" lengthAdjust="spacingAndGlyphs">10.22</text>
<text x="25.0" y="415.9" font-size="4.4" fill="#333" font-weight="bold" font-style="normal" textLength="8.2" lengthAdjust="spacingAndGlyphs">Jun</text>
<text x="105.5" y="415.9" font-size="4.4" fill="#333" font-weight="bold" font-style="normal" textLength="6.2" lengthAdjust="spacingAndGlyphs">Jul</text>
<text x="185.5" y="415.9" font-size="4.4" fill="#333" font-weight="bold" font-style="normal" textLength="9.5" lengthAdjust="spacingAndGlyphs">Aug</text>
<text x="268.0" y="415.9" font-size="4.4" fill="#333" font-weight="bold" font-style="normal" textLength="9.0" lengthAdjust="spacingAndGlyphs">Sep</text>
<text x="346.8" y="415.9" font-size="4.4" fill="#333" font-weight="bold" font-style="normal" textLength="9.2" lengthAdjust="spacingAndGlyphs">Oct</text>
<text x="429.0" y="415.9" font-size="4.4" fill="#333" font-weight="bold" font-style="normal" textLength="9.5" lengthAdjust="spacingAndGlyphs">Nov</text>
<text x="508.2" y="415.9" font-size="4.4" fill="#333" font-weight="bold" font-style="normal" textLength="9.8" lengthAdjust="spacingAndGlyphs">Dec</text>
<text x="588.8" y="415.9" font-size="4.4" fill="#333" font-weight="bold" font-style="normal" textLength="13.3" lengthAdjust="spacingAndGlyphs">2026</text>
<text x="672.0" y="415.9" font-size="4.4" fill="#333" font-weight="bold" font-style="normal" textLength="9.2" lengthAdjust="spacingAndGlyphs">Feb</text>
<text x="746.2" y="415.9" font-size="4.4" fill="#333" font-weight="bold" font-style="normal" textLength="10.8" lengthAdjust="spacingAndGlyphs">Mar</text>
<text x="828.8" y="415.9" font-size="4.4" fill="#333" font-weight="bold" font-style="normal" textLength="8.8" lengthAdjust="spacingAndGlyphs">Apr</text>
<text x="907.5" y="415.9" font-size="4.4" fill="#333" font-weight="bold" font-style="normal" textLength="10.0" lengthAdjust="spacingAndGlyphs">May</text>
<rect x="5.7" y="10.9" width="5.3" height="406" fill="#1e1e1e"/>
</svg></body></html>
